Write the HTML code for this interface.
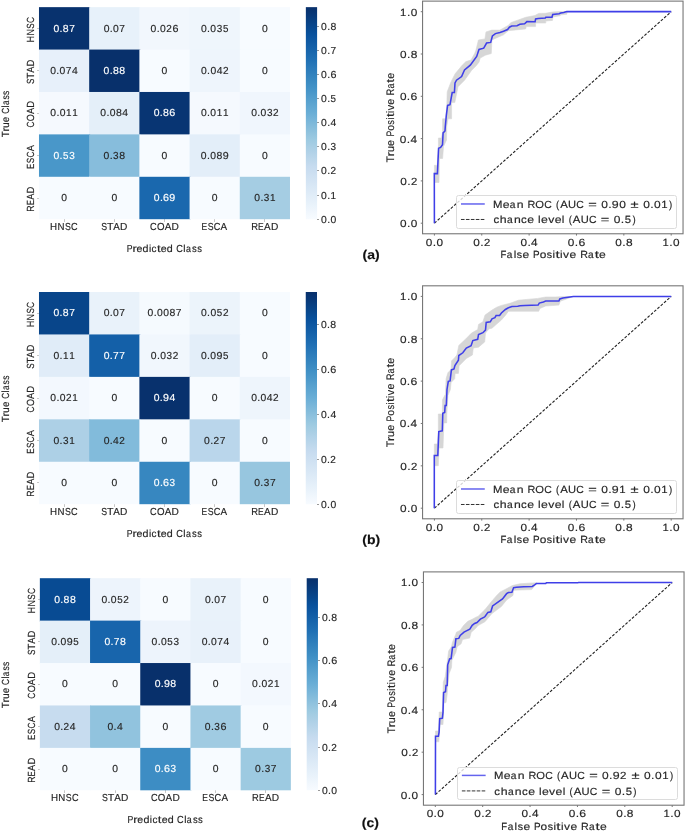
<!DOCTYPE html>
<html><head><meta charset="utf-8"><style>
html,body{margin:0;padding:0;background:#fff;}
body{width:685px;height:832px;position:relative;overflow:hidden;font-family:"Liberation Sans", sans-serif;}
.t{position:absolute;line-height:0;white-space:nowrap;}
.g{position:absolute;line-height:0;white-space:nowrap;width:0;height:0;will-change:transform;}
.g span{position:absolute;line-height:0;-webkit-text-stroke:0.2px currentColor;}
</style></head><body>
<div style="position:absolute;left:63.58px;top:219.20px;width:1.00px;height:2.50px;background:#c8c8c8;"></div>
<div style="position:absolute;left:113.78px;top:219.20px;width:1.00px;height:2.50px;background:#c8c8c8;"></div>
<div style="position:absolute;left:163.98px;top:219.20px;width:1.00px;height:2.50px;background:#c8c8c8;"></div>
<div style="position:absolute;left:214.18px;top:219.20px;width:1.00px;height:2.50px;background:#c8c8c8;"></div>
<div style="position:absolute;left:264.38px;top:219.20px;width:1.00px;height:2.50px;background:#c8c8c8;"></div>
<div style="position:absolute;left:36.98px;top:27.86px;width:2.00px;height:1.00px;background:#c8c8c8;"></div>
<div style="position:absolute;left:36.98px;top:70.27px;width:2.00px;height:1.00px;background:#c8c8c8;"></div>
<div style="position:absolute;left:36.98px;top:112.68px;width:2.00px;height:1.00px;background:#c8c8c8;"></div>
<div style="position:absolute;left:36.98px;top:155.09px;width:2.00px;height:1.00px;background:#c8c8c8;"></div>
<div style="position:absolute;left:36.98px;top:197.50px;width:2.00px;height:1.00px;background:#c8c8c8;"></div>
<div style="position:absolute;left:317.10px;top:218.70px;width:2.00px;height:1.00px;background:#999;"></div>
<div style="position:absolute;left:317.10px;top:194.60px;width:2.00px;height:1.00px;background:#999;"></div>
<div style="position:absolute;left:317.10px;top:170.49px;width:2.00px;height:1.00px;background:#999;"></div>
<div style="position:absolute;left:317.10px;top:146.39px;width:2.00px;height:1.00px;background:#999;"></div>
<div style="position:absolute;left:317.10px;top:122.28px;width:2.00px;height:1.00px;background:#999;"></div>
<div style="position:absolute;left:317.10px;top:98.18px;width:2.00px;height:1.00px;background:#999;"></div>
<div style="position:absolute;left:317.10px;top:74.07px;width:2.00px;height:1.00px;background:#999;"></div>
<div style="position:absolute;left:317.10px;top:49.97px;width:2.00px;height:1.00px;background:#999;"></div>
<div style="position:absolute;left:317.10px;top:25.86px;width:2.00px;height:1.00px;background:#999;"></div>
<div style="position:absolute;left:63.58px;top:504.20px;width:1.00px;height:2.50px;background:#c8c8c8;"></div>
<div style="position:absolute;left:113.78px;top:504.20px;width:1.00px;height:2.50px;background:#c8c8c8;"></div>
<div style="position:absolute;left:163.98px;top:504.20px;width:1.00px;height:2.50px;background:#c8c8c8;"></div>
<div style="position:absolute;left:214.18px;top:504.20px;width:1.00px;height:2.50px;background:#c8c8c8;"></div>
<div style="position:absolute;left:264.38px;top:504.20px;width:1.00px;height:2.50px;background:#c8c8c8;"></div>
<div style="position:absolute;left:36.98px;top:312.72px;width:2.00px;height:1.00px;background:#c8c8c8;"></div>
<div style="position:absolute;left:36.98px;top:355.16px;width:2.00px;height:1.00px;background:#c8c8c8;"></div>
<div style="position:absolute;left:36.98px;top:397.60px;width:2.00px;height:1.00px;background:#c8c8c8;"></div>
<div style="position:absolute;left:36.98px;top:440.04px;width:2.00px;height:1.00px;background:#c8c8c8;"></div>
<div style="position:absolute;left:36.98px;top:482.48px;width:2.00px;height:1.00px;background:#c8c8c8;"></div>
<div style="position:absolute;left:317.00px;top:503.70px;width:2.00px;height:1.00px;background:#999;"></div>
<div style="position:absolute;left:317.00px;top:458.74px;width:2.00px;height:1.00px;background:#999;"></div>
<div style="position:absolute;left:317.00px;top:413.78px;width:2.00px;height:1.00px;background:#999;"></div>
<div style="position:absolute;left:317.00px;top:368.83px;width:2.00px;height:1.00px;background:#999;"></div>
<div style="position:absolute;left:317.00px;top:323.87px;width:2.00px;height:1.00px;background:#999;"></div>
<div style="position:absolute;left:64.45px;top:790.30px;width:1.00px;height:2.50px;background:#c8c8c8;"></div>
<div style="position:absolute;left:114.65px;top:790.30px;width:1.00px;height:2.50px;background:#c8c8c8;"></div>
<div style="position:absolute;left:164.85px;top:790.30px;width:1.00px;height:2.50px;background:#c8c8c8;"></div>
<div style="position:absolute;left:215.05px;top:790.30px;width:1.00px;height:2.50px;background:#c8c8c8;"></div>
<div style="position:absolute;left:265.25px;top:790.30px;width:1.00px;height:2.50px;background:#c8c8c8;"></div>
<div style="position:absolute;left:37.85px;top:598.91px;width:2.00px;height:1.00px;background:#c8c8c8;"></div>
<div style="position:absolute;left:37.85px;top:641.33px;width:2.00px;height:1.00px;background:#c8c8c8;"></div>
<div style="position:absolute;left:37.85px;top:683.75px;width:2.00px;height:1.00px;background:#c8c8c8;"></div>
<div style="position:absolute;left:37.85px;top:726.17px;width:2.00px;height:1.00px;background:#c8c8c8;"></div>
<div style="position:absolute;left:37.85px;top:768.59px;width:2.00px;height:1.00px;background:#c8c8c8;"></div>
<div style="position:absolute;left:317.95px;top:789.80px;width:2.00px;height:1.00px;background:#999;"></div>
<div style="position:absolute;left:317.95px;top:746.51px;width:2.00px;height:1.00px;background:#999;"></div>
<div style="position:absolute;left:317.95px;top:703.23px;width:2.00px;height:1.00px;background:#999;"></div>
<div style="position:absolute;left:317.95px;top:659.94px;width:2.00px;height:1.00px;background:#999;"></div>
<div style="position:absolute;left:317.95px;top:616.66px;width:2.00px;height:1.00px;background:#999;"></div>
<svg width="685" height="832" style="position:absolute;left:0;top:0"><rect x="38.98" y="7.15" width="51.20" height="43.41" fill="#08326e"/><rect x="89.18" y="7.15" width="51.20" height="43.41" fill="#e7f1fa"/><rect x="139.38" y="7.15" width="51.20" height="43.41" fill="#f2f7fd"/><rect x="189.58" y="7.15" width="51.20" height="43.41" fill="#eff6fc"/><rect x="239.78" y="7.15" width="50.20" height="43.41" fill="#f7fbff"/><rect x="38.98" y="49.56" width="51.20" height="43.41" fill="#e7f0fa"/><rect x="89.18" y="49.56" width="51.20" height="43.41" fill="#08306b"/><rect x="139.38" y="49.56" width="51.20" height="43.41" fill="#f7fbff"/><rect x="189.58" y="49.56" width="51.20" height="43.41" fill="#eef5fc"/><rect x="239.78" y="49.56" width="50.20" height="43.41" fill="#f7fbff"/><rect x="38.98" y="91.97" width="51.20" height="43.41" fill="#f5f9fe"/><rect x="89.18" y="91.97" width="51.20" height="43.41" fill="#e4eff9"/><rect x="139.38" y="91.97" width="51.20" height="43.41" fill="#083573"/><rect x="189.58" y="91.97" width="51.20" height="43.41" fill="#f5f9fe"/><rect x="239.78" y="91.97" width="50.20" height="43.41" fill="#f0f6fd"/><rect x="38.98" y="134.38" width="51.20" height="43.41" fill="#4997c9"/><rect x="89.18" y="134.38" width="51.20" height="43.41" fill="#87bddc"/><rect x="139.38" y="134.38" width="51.20" height="43.41" fill="#f7fbff"/><rect x="189.58" y="134.38" width="51.20" height="43.41" fill="#e3eef9"/><rect x="239.78" y="134.38" width="50.20" height="43.41" fill="#f7fbff"/><rect x="38.98" y="176.79" width="51.20" height="42.41" fill="#f7fbff"/><rect x="89.18" y="176.79" width="51.20" height="42.41" fill="#f7fbff"/><rect x="139.38" y="176.79" width="51.20" height="42.41" fill="#1a68ae"/><rect x="189.58" y="176.79" width="51.20" height="42.41" fill="#f7fbff"/><rect x="239.78" y="176.79" width="50.20" height="42.41" fill="#a5cde3"/><defs><linearGradient id="cb0" x1="0" y1="0" x2="0" y2="1"><stop offset="0.0000" stop-color="#08306b"/><stop offset="0.0312" stop-color="#083776"/><stop offset="0.0625" stop-color="#084082"/><stop offset="0.0938" stop-color="#08488e"/><stop offset="0.1250" stop-color="#08509b"/><stop offset="0.1562" stop-color="#0e58a2"/><stop offset="0.1875" stop-color="#1460a8"/><stop offset="0.2188" stop-color="#1a68ae"/><stop offset="0.2500" stop-color="#2070b4"/><stop offset="0.2812" stop-color="#2979b9"/><stop offset="0.3125" stop-color="#3181bd"/><stop offset="0.3438" stop-color="#3989c1"/><stop offset="0.3750" stop-color="#4191c6"/><stop offset="0.4062" stop-color="#4b98ca"/><stop offset="0.4375" stop-color="#56a0ce"/><stop offset="0.4688" stop-color="#60a7d2"/><stop offset="0.5000" stop-color="#6aaed6"/><stop offset="0.5312" stop-color="#77b5d9"/><stop offset="0.5625" stop-color="#84bcdb"/><stop offset="0.5938" stop-color="#91c3de"/><stop offset="0.6250" stop-color="#9dcae1"/><stop offset="0.6562" stop-color="#a8cee4"/><stop offset="0.6875" stop-color="#b2d2e8"/><stop offset="0.7188" stop-color="#bcd7eb"/><stop offset="0.7500" stop-color="#c6dbef"/><stop offset="0.7812" stop-color="#ccdff1"/><stop offset="0.8125" stop-color="#d2e3f3"/><stop offset="0.8438" stop-color="#d8e7f5"/><stop offset="0.8750" stop-color="#deebf7"/><stop offset="0.9062" stop-color="#e4eff9"/><stop offset="0.9375" stop-color="#eaf3fb"/><stop offset="0.9688" stop-color="#f1f7fd"/><stop offset="1.0000" stop-color="#f7fbff"/></linearGradient></defs><rect x="305.85" y="7.15" width="11.25" height="212.05" fill="url(#cb0)"/><rect x="38.98" y="292.00" width="51.20" height="43.44" fill="#08458a"/><rect x="89.18" y="292.00" width="51.20" height="43.44" fill="#e9f2fa"/><rect x="139.38" y="292.00" width="51.20" height="43.44" fill="#f5fafe"/><rect x="189.58" y="292.00" width="51.20" height="43.44" fill="#ecf4fb"/><rect x="239.78" y="292.00" width="50.20" height="43.44" fill="#f7fbff"/><rect x="38.98" y="334.44" width="51.20" height="43.44" fill="#e0ecf8"/><rect x="89.18" y="334.44" width="51.20" height="43.44" fill="#1460a8"/><rect x="139.38" y="334.44" width="51.20" height="43.44" fill="#f1f7fd"/><rect x="189.58" y="334.44" width="51.20" height="43.44" fill="#e3eef9"/><rect x="239.78" y="334.44" width="50.20" height="43.44" fill="#f7fbff"/><rect x="38.98" y="376.88" width="51.20" height="43.44" fill="#f3f8fe"/><rect x="89.18" y="376.88" width="51.20" height="43.44" fill="#f7fbff"/><rect x="139.38" y="376.88" width="51.20" height="43.44" fill="#08316d"/><rect x="189.58" y="376.88" width="51.20" height="43.44" fill="#f7fbff"/><rect x="239.78" y="376.88" width="50.20" height="43.44" fill="#eef5fc"/><rect x="38.98" y="419.32" width="51.20" height="43.44" fill="#add0e6"/><rect x="89.18" y="419.32" width="51.20" height="43.44" fill="#82bbdb"/><rect x="139.38" y="419.32" width="51.20" height="43.44" fill="#f7fbff"/><rect x="189.58" y="419.32" width="51.20" height="43.44" fill="#bad6eb"/><rect x="239.78" y="419.32" width="50.20" height="43.44" fill="#f7fbff"/><rect x="38.98" y="461.76" width="51.20" height="42.44" fill="#f7fbff"/><rect x="89.18" y="461.76" width="51.20" height="42.44" fill="#f7fbff"/><rect x="139.38" y="461.76" width="51.20" height="42.44" fill="#3787c0"/><rect x="189.58" y="461.76" width="51.20" height="42.44" fill="#f7fbff"/><rect x="239.78" y="461.76" width="50.20" height="42.44" fill="#97c6df"/><defs><linearGradient id="cb1" x1="0" y1="0" x2="0" y2="1"><stop offset="0.0000" stop-color="#08306b"/><stop offset="0.0312" stop-color="#083776"/><stop offset="0.0625" stop-color="#084082"/><stop offset="0.0938" stop-color="#08488e"/><stop offset="0.1250" stop-color="#08509b"/><stop offset="0.1562" stop-color="#0e58a2"/><stop offset="0.1875" stop-color="#1460a8"/><stop offset="0.2188" stop-color="#1a68ae"/><stop offset="0.2500" stop-color="#2070b4"/><stop offset="0.2812" stop-color="#2979b9"/><stop offset="0.3125" stop-color="#3181bd"/><stop offset="0.3438" stop-color="#3989c1"/><stop offset="0.3750" stop-color="#4191c6"/><stop offset="0.4062" stop-color="#4b98ca"/><stop offset="0.4375" stop-color="#56a0ce"/><stop offset="0.4688" stop-color="#60a7d2"/><stop offset="0.5000" stop-color="#6aaed6"/><stop offset="0.5312" stop-color="#77b5d9"/><stop offset="0.5625" stop-color="#84bcdb"/><stop offset="0.5938" stop-color="#91c3de"/><stop offset="0.6250" stop-color="#9dcae1"/><stop offset="0.6562" stop-color="#a8cee4"/><stop offset="0.6875" stop-color="#b2d2e8"/><stop offset="0.7188" stop-color="#bcd7eb"/><stop offset="0.7500" stop-color="#c6dbef"/><stop offset="0.7812" stop-color="#ccdff1"/><stop offset="0.8125" stop-color="#d2e3f3"/><stop offset="0.8438" stop-color="#d8e7f5"/><stop offset="0.8750" stop-color="#deebf7"/><stop offset="0.9062" stop-color="#e4eff9"/><stop offset="0.9375" stop-color="#eaf3fb"/><stop offset="0.9688" stop-color="#f1f7fd"/><stop offset="1.0000" stop-color="#f7fbff"/></linearGradient></defs><rect x="305.75" y="292.00" width="11.25" height="212.20" fill="url(#cb1)"/><rect x="39.85" y="578.20" width="51.20" height="43.42" fill="#084b93"/><rect x="90.05" y="578.20" width="51.20" height="43.42" fill="#edf4fc"/><rect x="140.25" y="578.20" width="51.20" height="43.42" fill="#f7fbff"/><rect x="190.45" y="578.20" width="51.20" height="43.42" fill="#e9f2fa"/><rect x="240.65" y="578.20" width="50.20" height="43.42" fill="#f7fbff"/><rect x="39.85" y="620.62" width="51.20" height="43.42" fill="#e4eff9"/><rect x="90.05" y="620.62" width="51.20" height="43.42" fill="#1865ac"/><rect x="140.25" y="620.62" width="51.20" height="43.42" fill="#edf4fc"/><rect x="190.45" y="620.62" width="51.20" height="43.42" fill="#e8f1fa"/><rect x="240.65" y="620.62" width="50.20" height="43.42" fill="#f7fbff"/><rect x="39.85" y="663.04" width="51.20" height="43.42" fill="#f7fbff"/><rect x="90.05" y="663.04" width="51.20" height="43.42" fill="#f7fbff"/><rect x="140.25" y="663.04" width="51.20" height="43.42" fill="#08306b"/><rect x="190.45" y="663.04" width="51.20" height="43.42" fill="#f7fbff"/><rect x="240.65" y="663.04" width="50.20" height="43.42" fill="#f3f8fe"/><rect x="39.85" y="705.46" width="51.20" height="43.42" fill="#c7dcef"/><rect x="90.05" y="705.46" width="51.20" height="43.42" fill="#91c3de"/><rect x="140.25" y="705.46" width="51.20" height="43.42" fill="#f7fbff"/><rect x="190.45" y="705.46" width="51.20" height="43.42" fill="#a0cbe2"/><rect x="240.65" y="705.46" width="50.20" height="43.42" fill="#f7fbff"/><rect x="39.85" y="747.88" width="51.20" height="42.42" fill="#f7fbff"/><rect x="90.05" y="747.88" width="51.20" height="42.42" fill="#f7fbff"/><rect x="140.25" y="747.88" width="51.20" height="42.42" fill="#3d8dc4"/><rect x="190.45" y="747.88" width="51.20" height="42.42" fill="#f7fbff"/><rect x="240.65" y="747.88" width="50.20" height="42.42" fill="#9dcae1"/><defs><linearGradient id="cb2" x1="0" y1="0" x2="0" y2="1"><stop offset="0.0000" stop-color="#08306b"/><stop offset="0.0312" stop-color="#083776"/><stop offset="0.0625" stop-color="#084082"/><stop offset="0.0938" stop-color="#08488e"/><stop offset="0.1250" stop-color="#08509b"/><stop offset="0.1562" stop-color="#0e58a2"/><stop offset="0.1875" stop-color="#1460a8"/><stop offset="0.2188" stop-color="#1a68ae"/><stop offset="0.2500" stop-color="#2070b4"/><stop offset="0.2812" stop-color="#2979b9"/><stop offset="0.3125" stop-color="#3181bd"/><stop offset="0.3438" stop-color="#3989c1"/><stop offset="0.3750" stop-color="#4191c6"/><stop offset="0.4062" stop-color="#4b98ca"/><stop offset="0.4375" stop-color="#56a0ce"/><stop offset="0.4688" stop-color="#60a7d2"/><stop offset="0.5000" stop-color="#6aaed6"/><stop offset="0.5312" stop-color="#77b5d9"/><stop offset="0.5625" stop-color="#84bcdb"/><stop offset="0.5938" stop-color="#91c3de"/><stop offset="0.6250" stop-color="#9dcae1"/><stop offset="0.6562" stop-color="#a8cee4"/><stop offset="0.6875" stop-color="#b2d2e8"/><stop offset="0.7188" stop-color="#bcd7eb"/><stop offset="0.7500" stop-color="#c6dbef"/><stop offset="0.7812" stop-color="#ccdff1"/><stop offset="0.8125" stop-color="#d2e3f3"/><stop offset="0.8438" stop-color="#d8e7f5"/><stop offset="0.8750" stop-color="#deebf7"/><stop offset="0.9062" stop-color="#e4eff9"/><stop offset="0.9375" stop-color="#eaf3fb"/><stop offset="0.9688" stop-color="#f1f7fd"/><stop offset="1.0000" stop-color="#f7fbff"/></linearGradient></defs><rect x="306.70" y="578.20" width="11.25" height="212.10" fill="url(#cb2)"/><polygon points="434.4,173.6 434.4,165.3 437.2,165.3 438.4,147.7 438.4,138.0 441.4,138.0 442.6,132.0 442.6,118.8 445.6,118.8 446.8,105.0 447.2,91.8 450.8,82.4 455.1,73.8 462.3,65.1 466.0,61.5 471.0,60.1 474.6,53.6 476.0,50.0 478.4,40.0 484.9,38.9 486.0,31.9 491.9,30.1 500.0,30.1 508.2,25.4 511.1,22.5 517.6,20.2 525.7,17.3 535.0,15.5 538.6,13.4 545.3,13.3 552.5,12.0 559.6,11.6 567.3,11.6 567.3,11.6 566.8,14.3 560.7,14.8 560.1,15.8 553.0,16.9 552.5,20.4 545.8,21.0 545.8,23.0 535.6,23.0 535.6,26.6 526.3,26.6 525.7,28.9 508.2,30.7 503.5,34.8 494.2,38.9 491.9,40.0 491.3,53.5 485.4,55.2 480.2,58.1 479.0,62.2 476.0,65.9 471.7,70.2 464.5,80.3 458.0,86.8 454.8,102.6 451.6,102.6 451.6,118.8 448.0,118.8 446.8,126.0 446.5,140.0 443.5,146.6 442.6,158.5 439.4,158.5 439.0,182.5 434.8,182.5 434.8,173.6" fill="#d6d6d6" stroke="#d6d6d6" stroke-width="0.6" stroke-linejoin="round"/><line x1="434.4" y1="223.2" x2="671.2" y2="11.7" stroke="#222" stroke-width="1.1" stroke-dasharray="2.8 1.6"/><path d="M434.4,223.2 L434.3,173.6 L437.4,173.6 L438.6,148.2 L440.6,147.4 L442.5,144.8 L443.1,132.9 L445.0,131.0 L445.3,126.5 L446.4,114.8 L447.6,105.4 L450.0,104.7 L452.2,92.5 L454.4,92.5 L455.0,83.0 L456.5,80.2 L461.6,76.6 L464.5,70.0 L470.3,65.1 L476.7,56.4 L479.0,49.4 L483.7,48.2 L486.6,43.0 L490.7,42.4 L492.4,36.0 L495.4,33.6 L500.0,32.4 L503.5,31.3 L507.6,29.5 L509.4,27.2 L511.7,26.0 L517.0,25.8 L519.9,24.3 L524.6,23.7 L526.9,21.6 L535.1,21.7 L535.6,18.9 L538.2,18.4 L545.3,17.9 L545.8,17.2 L552.0,17.2 L552.7,14.5 L559.1,13.8 L560.7,13.1 L563.7,12.5 L566.8,11.6 L671.2,11.6" fill="none" stroke="#3f3fe8" stroke-width="1.55" stroke-linejoin="miter"/><rect x="422.56" y="1.12" width="260.48" height="232.65" fill="none" stroke="#777" stroke-width="1.1"/><line x1="434.40" y1="233.77" x2="434.40" y2="235.57" stroke="#777" stroke-width="1"/><line x1="420.76" y1="223.20" x2="422.56" y2="223.20" stroke="#777" stroke-width="1"/><line x1="481.76" y1="233.77" x2="481.76" y2="235.57" stroke="#777" stroke-width="1"/><line x1="420.76" y1="180.90" x2="422.56" y2="180.90" stroke="#777" stroke-width="1"/><line x1="529.12" y1="233.77" x2="529.12" y2="235.57" stroke="#777" stroke-width="1"/><line x1="420.76" y1="138.60" x2="422.56" y2="138.60" stroke="#777" stroke-width="1"/><line x1="576.48" y1="233.77" x2="576.48" y2="235.57" stroke="#777" stroke-width="1"/><line x1="420.76" y1="96.30" x2="422.56" y2="96.30" stroke="#777" stroke-width="1"/><line x1="623.84" y1="233.77" x2="623.84" y2="235.57" stroke="#777" stroke-width="1"/><line x1="420.76" y1="54.00" x2="422.56" y2="54.00" stroke="#777" stroke-width="1"/><line x1="671.20" y1="233.77" x2="671.20" y2="235.57" stroke="#777" stroke-width="1"/><line x1="420.76" y1="11.70" x2="422.56" y2="11.70" stroke="#777" stroke-width="1"/><polygon points="434.3,455.4 434.3,444.0 437.5,444.0 438.3,431.6 438.3,414.0 442.3,414.0 442.5,399.7 445.4,394.3 446.1,378.8 447.9,372.7 451.1,369.4 451.5,360.8 454.0,358.6 456.9,355.0 458.8,345.4 465.4,339.3 471.5,333.1 477.7,329.6 478.5,324.4 482.9,321.8 485.0,315.1 492.0,310.1 496.7,307.2 501.4,305.4 510.7,303.1 518.3,300.2 537.6,298.4 545.7,297.0 555.0,297.0 565.0,296.6 573.4,296.5 573.4,296.5 560.3,301.2 558.9,305.1 545.7,306.0 539.9,308.4 538.7,311.3 508.4,311.3 505.4,315.4 501.4,320.0 496.7,324.1 492.0,328.2 489.0,328.8 485.5,333.1 484.7,341.9 478.5,347.2 473.3,348.0 472.4,355.0 466.3,358.5 462.7,362.2 459.1,365.8 458.4,373.4 455.1,373.4 454.7,378.8 451.1,382.4 450.4,389.6 447.9,395.4 446.8,414.1 446.7,422.9 443.9,422.9 443.0,448.0 439.0,448.0 438.3,465.7 435.1,465.7 435.1,455.4" fill="#d6d6d6" stroke="#d6d6d6" stroke-width="0.6" stroke-linejoin="round"/><line x1="434.4" y1="508.2" x2="671.2" y2="296.4" stroke="#222" stroke-width="1.1" stroke-dasharray="2.8 1.6"/><path d="M434.3,508.2 L434.3,455.4 L437.8,455.4 L438.8,431.6 L442.3,430.8 L442.8,413.3 L444.7,412.5 L445.1,405.4 L446.3,405.4 L447.0,389.5 L448.3,381.3 L450.1,380.9 L451.4,369.9 L454.0,369.0 L454.9,365.5 L458.4,360.3 L458.8,355.5 L462.8,352.8 L466.3,348.0 L471.1,345.8 L472.8,340.6 L477.7,339.3 L478.5,334.5 L482.9,332.7 L485.5,330.1 L486.2,322.4 L490.3,321.8 L492.0,318.9 L494.9,317.7 L496.1,315.6 L499.6,315.4 L501.4,313.0 L505.4,309.5 L508.4,307.8 L511.9,306.6 L517.7,306.3 L520.0,305.8 L524.7,305.4 L538.1,305.1 L539.3,303.1 L543.4,301.9 L545.7,301.1 L558.9,301.0 L559.8,299.0 L562.9,298.0 L568.1,297.3 L573.4,296.5 L671.2,296.5" fill="none" stroke="#3f3fe8" stroke-width="1.55" stroke-linejoin="miter"/><rect x="422.56" y="285.81" width="260.48" height="232.98" fill="none" stroke="#777" stroke-width="1.1"/><line x1="434.40" y1="518.79" x2="434.40" y2="520.59" stroke="#777" stroke-width="1"/><line x1="420.76" y1="508.20" x2="422.56" y2="508.20" stroke="#777" stroke-width="1"/><line x1="481.76" y1="518.79" x2="481.76" y2="520.59" stroke="#777" stroke-width="1"/><line x1="420.76" y1="465.84" x2="422.56" y2="465.84" stroke="#777" stroke-width="1"/><line x1="529.12" y1="518.79" x2="529.12" y2="520.59" stroke="#777" stroke-width="1"/><line x1="420.76" y1="423.48" x2="422.56" y2="423.48" stroke="#777" stroke-width="1"/><line x1="576.48" y1="518.79" x2="576.48" y2="520.59" stroke="#777" stroke-width="1"/><line x1="420.76" y1="381.12" x2="422.56" y2="381.12" stroke="#777" stroke-width="1"/><line x1="623.84" y1="518.79" x2="623.84" y2="520.59" stroke="#777" stroke-width="1"/><line x1="420.76" y1="338.76" x2="422.56" y2="338.76" stroke="#777" stroke-width="1"/><line x1="671.20" y1="518.79" x2="671.20" y2="520.59" stroke="#777" stroke-width="1"/><line x1="420.76" y1="296.40" x2="422.56" y2="296.40" stroke="#777" stroke-width="1"/><polygon points="435.5,736.3 435.5,731.0 438.6,731.0 439.2,712.0 442.4,712.0 443.3,682.3 445.2,676.5 447.6,659.2 448.6,651.1 451.5,646.7 452.4,642.4 455.8,634.2 456.3,632.3 460.1,630.4 463.5,625.6 467.8,621.3 472.1,619.3 476.5,616.9 478.0,616.4 485.0,609.5 493.2,599.5 496.7,595.4 500.2,591.9 506.0,589.0 512.4,585.5 520.0,583.8 532.9,582.9 536.4,582.8 536.4,583.2 534.0,586.7 531.7,589.6 513.6,590.2 513.0,595.4 506.6,600.1 501.4,606.5 496.7,610.0 492.0,613.5 485.0,621.7 478.0,625.6 475.5,628.5 471.2,632.3 469.7,638.1 462.5,639.5 461.1,643.8 457.2,646.7 455.8,652.5 451.9,660.2 451.5,667.4 449.1,673.7 447.6,688.1 447.1,695.0 446.0,702.7 443.9,702.7 443.0,724.5 440.0,724.5 438.8,741.8 436.3,741.8 436.3,736.3" fill="#d6d6d6" stroke="#d6d6d6" stroke-width="0.6" stroke-linejoin="round"/><line x1="435.3" y1="794.6" x2="672.2" y2="582.5" stroke="#222" stroke-width="1.1" stroke-dasharray="2.8 1.6"/><path d="M435.4,794.6 L435.5,736.3 L438.4,736.3 L439.1,732.1 L439.7,718.7 L442.4,718.2 L443.0,712.4 L443.6,692.6 L445.5,691.8 L446.0,685.5 L447.2,685.5 L447.7,664.8 L449.6,659.0 L451.1,658.6 L452.5,647.5 L454.9,647.0 L455.9,638.8 L458.8,638.4 L460.2,635.5 L464.0,632.1 L469.8,629.2 L472.2,625.4 L474.6,623.5 L477.0,622.5 L480.4,619.1 L484.2,617.2 L485.0,616.5 L487.9,612.4 L490.8,611.8 L492.6,606.0 L499.0,601.3 L502.5,598.9 L506.6,593.7 L508.4,592.5 L511.9,592.3 L513.6,587.8 L516.5,587.3 L523.5,586.7 L532.3,586.4 L534.6,584.9 L536.4,583.6 L545.8,583.4 L546.4,582.8 L577.9,582.8 L578.5,582.4 L672.2,582.4" fill="none" stroke="#3f3fe8" stroke-width="1.55" stroke-linejoin="miter"/><rect x="423.45" y="571.89" width="260.59" height="233.31" fill="none" stroke="#777" stroke-width="1.1"/><line x1="435.30" y1="805.21" x2="435.30" y2="807.00" stroke="#777" stroke-width="1"/><line x1="421.65" y1="794.60" x2="423.45" y2="794.60" stroke="#777" stroke-width="1"/><line x1="482.68" y1="805.21" x2="482.68" y2="807.00" stroke="#777" stroke-width="1"/><line x1="421.65" y1="752.18" x2="423.45" y2="752.18" stroke="#777" stroke-width="1"/><line x1="530.06" y1="805.21" x2="530.06" y2="807.00" stroke="#777" stroke-width="1"/><line x1="421.65" y1="709.76" x2="423.45" y2="709.76" stroke="#777" stroke-width="1"/><line x1="577.44" y1="805.21" x2="577.44" y2="807.00" stroke="#777" stroke-width="1"/><line x1="421.65" y1="667.34" x2="423.45" y2="667.34" stroke="#777" stroke-width="1"/><line x1="624.82" y1="805.21" x2="624.82" y2="807.00" stroke="#777" stroke-width="1"/><line x1="421.65" y1="624.92" x2="423.45" y2="624.92" stroke="#777" stroke-width="1"/><line x1="672.20" y1="805.21" x2="672.20" y2="807.00" stroke="#777" stroke-width="1"/><line x1="421.65" y1="582.50" x2="423.45" y2="582.50" stroke="#777" stroke-width="1"/></svg>
<div style="position:absolute;left:456.36px;top:195.37px;width:220.60px;height:33.30px;box-sizing:border-box;border:1px solid #dcdcdc;border-radius:2.5px;background:rgba(255,255,255,0.8)"></div>
<div style="position:absolute;left:456.36px;top:480.39px;width:220.60px;height:33.30px;box-sizing:border-box;border:1px solid #dcdcdc;border-radius:2.5px;background:rgba(255,255,255,0.8)"></div>
<div style="position:absolute;left:457.25px;top:766.81px;width:220.60px;height:33.30px;box-sizing:border-box;border:1px solid #dcdcdc;border-radius:2.5px;background:rgba(255,255,255,0.8)"></div>
<svg width="685" height="832" style="position:absolute;left:0;top:0;will-change:transform" font-family="Liberation Sans" text-rendering="geometricPrecision" stroke-width="0.16"><g transform="translate(53.21,31.56)" font-size="10.17" fill="#ffffff" stroke="#ffffff"><text transform="translate(0.24,0) scale(1.021,1)">0</text><text transform="translate(6.35,0) scale(1.048,1)">.</text><text transform="translate(9.61,0) scale(1.032,1)">8</text><text x="15.95" y="0">7</text></g><g transform="translate(103.41,31.56)" font-size="10.17" fill="#262626" stroke="#262626"><text transform="translate(0.24,0) scale(1.021,1)">0</text><text transform="translate(6.35,0) scale(1.048,1)">.</text><text transform="translate(9.64,0) scale(1.021,1)">0</text><text x="15.95" y="0">7</text></g><g transform="translate(150.37,31.56)" font-size="10.17" fill="#262626" stroke="#262626"><text transform="translate(0.24,0) scale(1.021,1)">0</text><text transform="translate(6.35,0) scale(1.048,1)">.</text><text transform="translate(9.64,0) scale(1.021,1)">0</text><text transform="translate(15.88,0) scale(0.984,1)">2</text><text transform="translate(22.07,0) scale(1.056,1)">6</text></g><g transform="translate(200.69,31.56)" font-size="10.17" fill="#262626" stroke="#262626"><text transform="translate(0.24,0) scale(1.021,1)">0</text><text transform="translate(6.35,0) scale(1.048,1)">.</text><text transform="translate(9.64,0) scale(1.021,1)">0</text><text transform="translate(16.04,0) scale(0.980,1)">3</text><text transform="translate(22.30,0) scale(0.963,1)">5</text></g><g transform="translate(261.75,31.56)" font-size="10.17" fill="#262626" stroke="#262626"><text transform="translate(0.24,0) scale(1.021,1)">0</text></g><g transform="translate(49.93,73.97)" font-size="10.17" fill="#262626" stroke="#262626"><text transform="translate(0.24,0) scale(1.021,1)">0</text><text transform="translate(6.35,0) scale(1.048,1)">.</text><text transform="translate(9.64,0) scale(1.021,1)">0</text><text x="15.95" y="0">7</text><text transform="translate(22.17,0) scale(1.021,1)">4</text></g><g transform="translate(103.33,73.97)" font-size="10.17" fill="#ffffff" stroke="#ffffff"><text transform="translate(0.24,0) scale(1.021,1)">0</text><text transform="translate(6.35,0) scale(1.048,1)">.</text><text transform="translate(9.61,0) scale(1.032,1)">8</text><text transform="translate(15.88,0) scale(1.032,1)">8</text></g><g transform="translate(161.35,73.97)" font-size="10.17" fill="#262626" stroke="#262626"><text transform="translate(0.24,0) scale(1.021,1)">0</text></g><g transform="translate(200.75,73.97)" font-size="10.17" fill="#262626" stroke="#262626"><text transform="translate(0.24,0) scale(1.021,1)">0</text><text transform="translate(6.35,0) scale(1.048,1)">.</text><text transform="translate(9.64,0) scale(1.021,1)">0</text><text transform="translate(15.91,0) scale(1.021,1)">4</text><text transform="translate(22.15,0) scale(0.984,1)">2</text></g><g transform="translate(261.75,73.97)" font-size="10.17" fill="#262626" stroke="#262626"><text transform="translate(0.24,0) scale(1.021,1)">0</text></g><g transform="translate(50.11,116.38)" font-size="10.17" fill="#262626" stroke="#262626"><text transform="translate(0.24,0) scale(1.021,1)">0</text><text transform="translate(6.35,0) scale(1.048,1)">.</text><text transform="translate(9.64,0) scale(1.021,1)">0</text><text transform="translate(15.99,0) scale(0.975,1)">1</text><text transform="translate(22.26,0) scale(0.975,1)">1</text></g><g transform="translate(100.13,116.38)" font-size="10.17" fill="#262626" stroke="#262626"><text transform="translate(0.24,0) scale(1.021,1)">0</text><text transform="translate(6.35,0) scale(1.048,1)">.</text><text transform="translate(9.64,0) scale(1.021,1)">0</text><text transform="translate(15.88,0) scale(1.032,1)">8</text><text transform="translate(22.17,0) scale(1.021,1)">4</text></g><g transform="translate(153.50,116.38)" font-size="10.17" fill="#ffffff" stroke="#ffffff"><text transform="translate(0.24,0) scale(1.021,1)">0</text><text transform="translate(6.35,0) scale(1.048,1)">.</text><text transform="translate(9.61,0) scale(1.032,1)">8</text><text transform="translate(15.81,0) scale(1.056,1)">6</text></g><g transform="translate(200.71,116.38)" font-size="10.17" fill="#262626" stroke="#262626"><text transform="translate(0.24,0) scale(1.021,1)">0</text><text transform="translate(6.35,0) scale(1.048,1)">.</text><text transform="translate(9.64,0) scale(1.021,1)">0</text><text transform="translate(15.99,0) scale(0.975,1)">1</text><text transform="translate(22.26,0) scale(0.975,1)">1</text></g><g transform="translate(250.95,116.38)" font-size="10.17" fill="#262626" stroke="#262626"><text transform="translate(0.24,0) scale(1.021,1)">0</text><text transform="translate(6.35,0) scale(1.048,1)">.</text><text transform="translate(9.64,0) scale(1.021,1)">0</text><text transform="translate(16.04,0) scale(0.980,1)">3</text><text transform="translate(22.15,0) scale(0.984,1)">2</text></g><g transform="translate(53.18,158.78)" font-size="10.17" fill="#ffffff" stroke="#ffffff"><text transform="translate(0.24,0) scale(1.021,1)">0</text><text transform="translate(6.35,0) scale(1.048,1)">.</text><text transform="translate(9.77,0) scale(0.963,1)">5</text><text transform="translate(16.04,0) scale(0.980,1)">3</text></g><g transform="translate(103.33,158.78)" font-size="10.17" fill="#262626" stroke="#262626"><text transform="translate(0.24,0) scale(1.021,1)">0</text><text transform="translate(6.35,0) scale(1.048,1)">.</text><text transform="translate(9.77,0) scale(0.980,1)">3</text><text transform="translate(15.88,0) scale(1.032,1)">8</text></g><g transform="translate(161.35,158.78)" font-size="10.17" fill="#262626" stroke="#262626"><text transform="translate(0.24,0) scale(1.021,1)">0</text></g><g transform="translate(200.60,158.78)" font-size="10.17" fill="#262626" stroke="#262626"><text transform="translate(0.24,0) scale(1.021,1)">0</text><text transform="translate(6.35,0) scale(1.048,1)">.</text><text transform="translate(9.64,0) scale(1.021,1)">0</text><text transform="translate(15.88,0) scale(1.032,1)">8</text><text transform="translate(22.05,0) scale(1.054,1)">9</text></g><g transform="translate(261.75,158.78)" font-size="10.17" fill="#262626" stroke="#262626"><text transform="translate(0.24,0) scale(1.021,1)">0</text></g><g transform="translate(60.95,201.20)" font-size="10.17" fill="#262626" stroke="#262626"><text transform="translate(0.24,0) scale(1.021,1)">0</text></g><g transform="translate(111.15,201.20)" font-size="10.17" fill="#262626" stroke="#262626"><text transform="translate(0.24,0) scale(1.021,1)">0</text></g><g transform="translate(153.54,201.20)" font-size="10.17" fill="#ffffff" stroke="#ffffff"><text transform="translate(0.24,0) scale(1.021,1)">0</text><text transform="translate(6.35,0) scale(1.048,1)">.</text><text transform="translate(9.54,0) scale(1.056,1)">6</text><text transform="translate(15.78,0) scale(1.054,1)">9</text></g><g transform="translate(211.55,201.20)" font-size="10.17" fill="#262626" stroke="#262626"><text transform="translate(0.24,0) scale(1.021,1)">0</text></g><g transform="translate(254.04,201.20)" font-size="10.17" fill="#262626" stroke="#262626"><text transform="translate(0.24,0) scale(1.021,1)">0</text><text transform="translate(6.35,0) scale(1.048,1)">.</text><text transform="translate(9.77,0) scale(0.980,1)">3</text><text transform="translate(15.99,0) scale(0.975,1)">1</text></g><g transform="translate(49.91,229.80)" font-size="10.17" fill="#262626" stroke="#262626"><text transform="translate(0.16,0) scale(0.963,1)">H</text><text transform="translate(7.58,0) scale(0.956,1)">N</text><text transform="translate(15.03,0) scale(0.863,1)">S</text><text transform="translate(21.12,0) scale(0.899,1)">C</text></g><g transform="translate(100.95,229.80)" font-size="10.17" fill="#262626" stroke="#262626"><text transform="translate(0.25,0) scale(0.863,1)">S</text><text transform="translate(5.98,0) scale(1.056,1)">T</text><text transform="translate(12.33,0) scale(0.975,1)">A</text><text x="19.14" y="0">D</text></g><g transform="translate(150.02,229.80)" font-size="10.17" fill="#262626" stroke="#262626"><text transform="translate(0.09,0) scale(0.899,1)">C</text><text transform="translate(6.97,0) scale(0.957,1)">O</text><text transform="translate(14.69,0) scale(0.975,1)">A</text><text x="21.51" y="0">D</text></g><g transform="translate(201.19,229.80)" font-size="10.17" fill="#262626" stroke="#262626"><text transform="translate(0.27,0) scale(0.839,1)">E</text><text transform="translate(6.47,0) scale(0.863,1)">S</text><text transform="translate(12.56,0) scale(0.899,1)">C</text><text transform="translate(19.41,0) scale(0.975,1)">A</text></g><g transform="translate(250.99,229.80)" font-size="10.17" fill="#262626" stroke="#262626"><text transform="translate(0.19,0) scale(0.926,1)">R</text><text transform="translate(7.11,0) scale(0.839,1)">E</text><text transform="translate(13.13,0) scale(0.975,1)">A</text><text x="19.94" y="0">D</text></g><g transform="translate(34.18,29.46) rotate(-90) translate(-13.09,0)" font-size="10.33" fill="#262626" stroke="#262626"><text transform="translate(0.15,0) scale(0.876,1)">H</text><text transform="translate(7.00,0) scale(0.870,1)">N</text><text transform="translate(13.88,0) scale(0.785,1)">S</text><text transform="translate(19.51,0) scale(0.818,1)">C</text></g><g transform="translate(34.18,71.87) rotate(-90) translate(-12.31,0)" font-size="10.33" fill="#262626" stroke="#262626"><text transform="translate(0.23,0) scale(0.785,1)">S</text><text transform="translate(5.53,0) scale(0.961,1)">T</text><text transform="translate(11.39,0) scale(0.887,1)">A</text><text transform="translate(17.68,0) scale(0.911,1)">D</text></g><g transform="translate(34.18,114.28) rotate(-90) translate(-13.36,0)" font-size="10.33" fill="#262626" stroke="#262626"><text transform="translate(0.08,0) scale(0.818,1)">C</text><text transform="translate(6.44,0) scale(0.871,1)">O</text><text transform="translate(13.57,0) scale(0.887,1)">A</text><text transform="translate(19.86,0) scale(0.911,1)">D</text></g><g transform="translate(34.18,156.69) rotate(-90) translate(-12.46,0)" font-size="10.33" fill="#262626" stroke="#262626"><text transform="translate(0.25,0) scale(0.763,1)">E</text><text transform="translate(5.98,0) scale(0.785,1)">S</text><text transform="translate(11.61,0) scale(0.818,1)">C</text><text transform="translate(17.93,0) scale(0.887,1)">A</text></g><g transform="translate(34.18,199.10) rotate(-90) translate(-12.83,0)" font-size="10.33" fill="#262626" stroke="#262626"><text transform="translate(0.18,0) scale(0.842,1)">R</text><text transform="translate(6.57,0) scale(0.763,1)">E</text><text transform="translate(12.13,0) scale(0.887,1)">A</text><text transform="translate(18.42,0) scale(0.911,1)">D</text></g><g transform="translate(126.40,251.90)" font-size="10.17" fill="#262626" stroke="#262626"><text transform="translate(0.25,0) scale(0.856,1)">P</text><text transform="translate(6.00,0) scale(1.240,1)">r</text><text transform="translate(10.08,0) scale(1.046,1)">e</text><text transform="translate(16.14,0) scale(1.052,1)">d</text><text transform="translate(22.56,0) scale(0.990,1)">i</text><text transform="translate(25.16,0) scale(0.971,1)">c</text><text transform="translate(30.52,0) scale(1.294,1)">t</text><text transform="translate(34.41,0) scale(1.046,1)">e</text><text transform="translate(40.47,0) scale(1.052,1)">d</text><text transform="translate(49.85,0) scale(0.899,1)">C</text><text transform="translate(56.89,0) scale(0.990,1)">l</text><text transform="translate(59.59,0) scale(0.871,1)">a</text><text transform="translate(65.68,0) scale(0.928,1)">s</text><text transform="translate(70.81,0) scale(0.928,1)">s</text></g><g transform="translate(8.60,113.98) rotate(-90) translate(-23.00,0)" font-size="10.33" fill="#262626" stroke="#262626"><text transform="translate(-0.24,0) scale(0.940,1)">T</text><text transform="translate(5.49,0) scale(1.104,1)">r</text><text transform="translate(9.23,0) scale(0.929,1)">u</text><text transform="translate(14.82,0) scale(0.930,1)">e</text><text transform="translate(23.12,0) scale(0.800,1)">C</text><text transform="translate(29.48,0) scale(0.881,1)">l</text><text transform="translate(31.92,0) scale(0.775,1)">a</text><text transform="translate(37.43,0) scale(0.826,1)">s</text><text transform="translate(42.06,0) scale(0.826,1)">s</text></g><g transform="translate(320.85,222.70)" font-size="10.17" fill="#262626" stroke="#262626"><text transform="translate(0.24,0) scale(1.021,1)">0</text><text transform="translate(6.35,0) scale(1.048,1)">.</text><text transform="translate(9.64,0) scale(1.021,1)">0</text></g><g transform="translate(320.85,198.60)" font-size="10.17" fill="#262626" stroke="#262626"><text transform="translate(0.24,0) scale(1.021,1)">0</text><text transform="translate(6.35,0) scale(1.048,1)">.</text><text transform="translate(9.72,0) scale(0.975,1)">1</text></g><g transform="translate(320.85,174.49)" font-size="10.17" fill="#262626" stroke="#262626"><text transform="translate(0.24,0) scale(1.021,1)">0</text><text transform="translate(6.35,0) scale(1.048,1)">.</text><text transform="translate(9.62,0) scale(0.984,1)">2</text></g><g transform="translate(320.85,150.39)" font-size="10.17" fill="#262626" stroke="#262626"><text transform="translate(0.24,0) scale(1.021,1)">0</text><text transform="translate(6.35,0) scale(1.048,1)">.</text><text transform="translate(9.77,0) scale(0.980,1)">3</text></g><g transform="translate(320.85,126.28)" font-size="10.17" fill="#262626" stroke="#262626"><text transform="translate(0.24,0) scale(1.021,1)">0</text><text transform="translate(6.35,0) scale(1.048,1)">.</text><text transform="translate(9.64,0) scale(1.021,1)">4</text></g><g transform="translate(320.85,102.18)" font-size="10.17" fill="#262626" stroke="#262626"><text transform="translate(0.24,0) scale(1.021,1)">0</text><text transform="translate(6.35,0) scale(1.048,1)">.</text><text transform="translate(9.77,0) scale(0.963,1)">5</text></g><g transform="translate(320.85,78.07)" font-size="10.17" fill="#262626" stroke="#262626"><text transform="translate(0.24,0) scale(1.021,1)">0</text><text transform="translate(6.35,0) scale(1.048,1)">.</text><text transform="translate(9.54,0) scale(1.056,1)">6</text></g><g transform="translate(320.85,53.97)" font-size="10.17" fill="#262626" stroke="#262626"><text transform="translate(0.24,0) scale(1.021,1)">0</text><text transform="translate(6.35,0) scale(1.048,1)">.</text><text x="9.68" y="0">7</text></g><g transform="translate(320.85,29.86)" font-size="10.17" fill="#262626" stroke="#262626"><text transform="translate(0.24,0) scale(1.021,1)">0</text><text transform="translate(6.35,0) scale(1.048,1)">.</text><text transform="translate(9.61,0) scale(1.032,1)">8</text></g><g transform="translate(53.21,316.42)" font-size="10.17" fill="#ffffff" stroke="#ffffff"><text transform="translate(0.24,0) scale(1.021,1)">0</text><text transform="translate(6.35,0) scale(1.048,1)">.</text><text transform="translate(9.61,0) scale(1.032,1)">8</text><text x="15.95" y="0">7</text></g><g transform="translate(103.41,316.42)" font-size="10.17" fill="#262626" stroke="#262626"><text transform="translate(0.24,0) scale(1.021,1)">0</text><text transform="translate(6.35,0) scale(1.048,1)">.</text><text transform="translate(9.64,0) scale(1.021,1)">0</text><text x="15.95" y="0">7</text></g><g transform="translate(147.34,316.42)" font-size="10.17" fill="#262626" stroke="#262626"><text transform="translate(0.24,0) scale(1.021,1)">0</text><text transform="translate(6.35,0) scale(1.048,1)">.</text><text transform="translate(9.64,0) scale(1.021,1)">0</text><text transform="translate(15.91,0) scale(1.021,1)">0</text><text transform="translate(22.14,0) scale(1.032,1)">8</text><text x="28.48" y="0">7</text></g><g transform="translate(200.75,316.42)" font-size="10.17" fill="#262626" stroke="#262626"><text transform="translate(0.24,0) scale(1.021,1)">0</text><text transform="translate(6.35,0) scale(1.048,1)">.</text><text transform="translate(9.64,0) scale(1.021,1)">0</text><text transform="translate(16.03,0) scale(0.963,1)">5</text><text transform="translate(22.15,0) scale(0.984,1)">2</text></g><g transform="translate(261.75,316.42)" font-size="10.17" fill="#262626" stroke="#262626"><text transform="translate(0.24,0) scale(1.021,1)">0</text></g><g transform="translate(53.24,358.86)" font-size="10.17" fill="#262626" stroke="#262626"><text transform="translate(0.24,0) scale(1.021,1)">0</text><text transform="translate(6.35,0) scale(1.048,1)">.</text><text transform="translate(9.72,0) scale(0.975,1)">1</text><text transform="translate(15.99,0) scale(0.975,1)">1</text></g><g transform="translate(103.41,358.86)" font-size="10.17" fill="#ffffff" stroke="#ffffff"><text transform="translate(0.24,0) scale(1.021,1)">0</text><text transform="translate(6.35,0) scale(1.048,1)">.</text><text x="9.68" y="0">7</text><text x="15.95" y="0">7</text></g><g transform="translate(150.55,358.86)" font-size="10.17" fill="#262626" stroke="#262626"><text transform="translate(0.24,0) scale(1.021,1)">0</text><text transform="translate(6.35,0) scale(1.048,1)">.</text><text transform="translate(9.64,0) scale(1.021,1)">0</text><text transform="translate(16.04,0) scale(0.980,1)">3</text><text transform="translate(22.15,0) scale(0.984,1)">2</text></g><g transform="translate(200.69,358.86)" font-size="10.17" fill="#262626" stroke="#262626"><text transform="translate(0.24,0) scale(1.021,1)">0</text><text transform="translate(6.35,0) scale(1.048,1)">.</text><text transform="translate(9.64,0) scale(1.021,1)">0</text><text transform="translate(15.78,0) scale(1.054,1)">9</text><text transform="translate(22.30,0) scale(0.963,1)">5</text></g><g transform="translate(261.75,358.86)" font-size="10.17" fill="#262626" stroke="#262626"><text transform="translate(0.24,0) scale(1.021,1)">0</text></g><g transform="translate(50.11,401.30)" font-size="10.17" fill="#262626" stroke="#262626"><text transform="translate(0.24,0) scale(1.021,1)">0</text><text transform="translate(6.35,0) scale(1.048,1)">.</text><text transform="translate(9.64,0) scale(1.021,1)">0</text><text transform="translate(15.88,0) scale(0.984,1)">2</text><text transform="translate(22.26,0) scale(0.975,1)">1</text></g><g transform="translate(111.15,401.30)" font-size="10.17" fill="#262626" stroke="#262626"><text transform="translate(0.24,0) scale(1.021,1)">0</text></g><g transform="translate(153.47,401.30)" font-size="10.17" fill="#ffffff" stroke="#ffffff"><text transform="translate(0.24,0) scale(1.021,1)">0</text><text transform="translate(6.35,0) scale(1.048,1)">.</text><text transform="translate(9.52,0) scale(1.054,1)">9</text><text transform="translate(15.91,0) scale(1.021,1)">4</text></g><g transform="translate(211.55,401.30)" font-size="10.17" fill="#262626" stroke="#262626"><text transform="translate(0.24,0) scale(1.021,1)">0</text></g><g transform="translate(250.95,401.30)" font-size="10.17" fill="#262626" stroke="#262626"><text transform="translate(0.24,0) scale(1.021,1)">0</text><text transform="translate(6.35,0) scale(1.048,1)">.</text><text transform="translate(9.64,0) scale(1.021,1)">0</text><text transform="translate(15.91,0) scale(1.021,1)">4</text><text transform="translate(22.15,0) scale(0.984,1)">2</text></g><g transform="translate(53.24,443.74)" font-size="10.17" fill="#262626" stroke="#262626"><text transform="translate(0.24,0) scale(1.021,1)">0</text><text transform="translate(6.35,0) scale(1.048,1)">.</text><text transform="translate(9.77,0) scale(0.980,1)">3</text><text transform="translate(15.99,0) scale(0.975,1)">1</text></g><g transform="translate(103.48,443.74)" font-size="10.17" fill="#262626" stroke="#262626"><text transform="translate(0.24,0) scale(1.021,1)">0</text><text transform="translate(6.35,0) scale(1.048,1)">.</text><text transform="translate(9.64,0) scale(1.021,1)">4</text><text transform="translate(15.88,0) scale(0.984,1)">2</text></g><g transform="translate(161.35,443.74)" font-size="10.17" fill="#262626" stroke="#262626"><text transform="translate(0.24,0) scale(1.021,1)">0</text></g><g transform="translate(203.81,443.74)" font-size="10.17" fill="#262626" stroke="#262626"><text transform="translate(0.24,0) scale(1.021,1)">0</text><text transform="translate(6.35,0) scale(1.048,1)">.</text><text transform="translate(9.62,0) scale(0.984,1)">2</text><text x="15.95" y="0">7</text></g><g transform="translate(261.75,443.74)" font-size="10.17" fill="#262626" stroke="#262626"><text transform="translate(0.24,0) scale(1.021,1)">0</text></g><g transform="translate(60.95,486.18)" font-size="10.17" fill="#262626" stroke="#262626"><text transform="translate(0.24,0) scale(1.021,1)">0</text></g><g transform="translate(111.15,486.18)" font-size="10.17" fill="#262626" stroke="#262626"><text transform="translate(0.24,0) scale(1.021,1)">0</text></g><g transform="translate(153.58,486.18)" font-size="10.17" fill="#ffffff" stroke="#ffffff"><text transform="translate(0.24,0) scale(1.021,1)">0</text><text transform="translate(6.35,0) scale(1.048,1)">.</text><text transform="translate(9.54,0) scale(1.056,1)">6</text><text transform="translate(16.04,0) scale(0.980,1)">3</text></g><g transform="translate(211.55,486.18)" font-size="10.17" fill="#262626" stroke="#262626"><text transform="translate(0.24,0) scale(1.021,1)">0</text></g><g transform="translate(254.01,486.18)" font-size="10.17" fill="#262626" stroke="#262626"><text transform="translate(0.24,0) scale(1.021,1)">0</text><text transform="translate(6.35,0) scale(1.048,1)">.</text><text transform="translate(9.77,0) scale(0.980,1)">3</text><text x="15.95" y="0">7</text></g><g transform="translate(49.91,514.80)" font-size="10.17" fill="#262626" stroke="#262626"><text transform="translate(0.16,0) scale(0.963,1)">H</text><text transform="translate(7.58,0) scale(0.956,1)">N</text><text transform="translate(15.03,0) scale(0.863,1)">S</text><text transform="translate(21.12,0) scale(0.899,1)">C</text></g><g transform="translate(100.95,514.80)" font-size="10.17" fill="#262626" stroke="#262626"><text transform="translate(0.25,0) scale(0.863,1)">S</text><text transform="translate(5.98,0) scale(1.056,1)">T</text><text transform="translate(12.33,0) scale(0.975,1)">A</text><text x="19.14" y="0">D</text></g><g transform="translate(150.02,514.80)" font-size="10.17" fill="#262626" stroke="#262626"><text transform="translate(0.09,0) scale(0.899,1)">C</text><text transform="translate(6.97,0) scale(0.957,1)">O</text><text transform="translate(14.69,0) scale(0.975,1)">A</text><text x="21.51" y="0">D</text></g><g transform="translate(201.19,514.80)" font-size="10.17" fill="#262626" stroke="#262626"><text transform="translate(0.27,0) scale(0.839,1)">E</text><text transform="translate(6.47,0) scale(0.863,1)">S</text><text transform="translate(12.56,0) scale(0.899,1)">C</text><text transform="translate(19.41,0) scale(0.975,1)">A</text></g><g transform="translate(250.99,514.80)" font-size="10.17" fill="#262626" stroke="#262626"><text transform="translate(0.19,0) scale(0.926,1)">R</text><text transform="translate(7.11,0) scale(0.839,1)">E</text><text transform="translate(13.13,0) scale(0.975,1)">A</text><text x="19.94" y="0">D</text></g><g transform="translate(34.18,314.32) rotate(-90) translate(-13.09,0)" font-size="10.33" fill="#262626" stroke="#262626"><text transform="translate(0.15,0) scale(0.876,1)">H</text><text transform="translate(7.00,0) scale(0.870,1)">N</text><text transform="translate(13.88,0) scale(0.785,1)">S</text><text transform="translate(19.51,0) scale(0.818,1)">C</text></g><g transform="translate(34.18,356.76) rotate(-90) translate(-12.31,0)" font-size="10.33" fill="#262626" stroke="#262626"><text transform="translate(0.23,0) scale(0.785,1)">S</text><text transform="translate(5.53,0) scale(0.961,1)">T</text><text transform="translate(11.39,0) scale(0.887,1)">A</text><text transform="translate(17.68,0) scale(0.911,1)">D</text></g><g transform="translate(34.18,399.20) rotate(-90) translate(-13.36,0)" font-size="10.33" fill="#262626" stroke="#262626"><text transform="translate(0.08,0) scale(0.818,1)">C</text><text transform="translate(6.44,0) scale(0.871,1)">O</text><text transform="translate(13.57,0) scale(0.887,1)">A</text><text transform="translate(19.86,0) scale(0.911,1)">D</text></g><g transform="translate(34.18,441.64) rotate(-90) translate(-12.46,0)" font-size="10.33" fill="#262626" stroke="#262626"><text transform="translate(0.25,0) scale(0.763,1)">E</text><text transform="translate(5.98,0) scale(0.785,1)">S</text><text transform="translate(11.61,0) scale(0.818,1)">C</text><text transform="translate(17.93,0) scale(0.887,1)">A</text></g><g transform="translate(34.18,484.08) rotate(-90) translate(-12.83,0)" font-size="10.33" fill="#262626" stroke="#262626"><text transform="translate(0.18,0) scale(0.842,1)">R</text><text transform="translate(6.57,0) scale(0.763,1)">E</text><text transform="translate(12.13,0) scale(0.887,1)">A</text><text transform="translate(18.42,0) scale(0.911,1)">D</text></g><g transform="translate(126.40,536.90)" font-size="10.17" fill="#262626" stroke="#262626"><text transform="translate(0.25,0) scale(0.856,1)">P</text><text transform="translate(6.00,0) scale(1.240,1)">r</text><text transform="translate(10.08,0) scale(1.046,1)">e</text><text transform="translate(16.14,0) scale(1.052,1)">d</text><text transform="translate(22.56,0) scale(0.990,1)">i</text><text transform="translate(25.16,0) scale(0.971,1)">c</text><text transform="translate(30.52,0) scale(1.294,1)">t</text><text transform="translate(34.41,0) scale(1.046,1)">e</text><text transform="translate(40.47,0) scale(1.052,1)">d</text><text transform="translate(49.85,0) scale(0.899,1)">C</text><text transform="translate(56.89,0) scale(0.990,1)">l</text><text transform="translate(59.59,0) scale(0.871,1)">a</text><text transform="translate(65.68,0) scale(0.928,1)">s</text><text transform="translate(70.81,0) scale(0.928,1)">s</text></g><g transform="translate(8.60,398.90) rotate(-90) translate(-23.00,0)" font-size="10.33" fill="#262626" stroke="#262626"><text transform="translate(-0.24,0) scale(0.940,1)">T</text><text transform="translate(5.49,0) scale(1.104,1)">r</text><text transform="translate(9.23,0) scale(0.929,1)">u</text><text transform="translate(14.82,0) scale(0.930,1)">e</text><text transform="translate(23.12,0) scale(0.800,1)">C</text><text transform="translate(29.48,0) scale(0.881,1)">l</text><text transform="translate(31.92,0) scale(0.775,1)">a</text><text transform="translate(37.43,0) scale(0.826,1)">s</text><text transform="translate(42.06,0) scale(0.826,1)">s</text></g><g transform="translate(320.75,507.70)" font-size="10.17" fill="#262626" stroke="#262626"><text transform="translate(0.24,0) scale(1.021,1)">0</text><text transform="translate(6.35,0) scale(1.048,1)">.</text><text transform="translate(9.64,0) scale(1.021,1)">0</text></g><g transform="translate(320.75,462.74)" font-size="10.17" fill="#262626" stroke="#262626"><text transform="translate(0.24,0) scale(1.021,1)">0</text><text transform="translate(6.35,0) scale(1.048,1)">.</text><text transform="translate(9.62,0) scale(0.984,1)">2</text></g><g transform="translate(320.75,417.78)" font-size="10.17" fill="#262626" stroke="#262626"><text transform="translate(0.24,0) scale(1.021,1)">0</text><text transform="translate(6.35,0) scale(1.048,1)">.</text><text transform="translate(9.64,0) scale(1.021,1)">4</text></g><g transform="translate(320.75,372.83)" font-size="10.17" fill="#262626" stroke="#262626"><text transform="translate(0.24,0) scale(1.021,1)">0</text><text transform="translate(6.35,0) scale(1.048,1)">.</text><text transform="translate(9.54,0) scale(1.056,1)">6</text></g><g transform="translate(320.75,327.87)" font-size="10.17" fill="#262626" stroke="#262626"><text transform="translate(0.24,0) scale(1.021,1)">0</text><text transform="translate(6.35,0) scale(1.048,1)">.</text><text transform="translate(9.61,0) scale(1.032,1)">8</text></g><g transform="translate(54.00,602.61)" font-size="10.17" fill="#ffffff" stroke="#ffffff"><text transform="translate(0.24,0) scale(1.021,1)">0</text><text transform="translate(6.35,0) scale(1.048,1)">.</text><text transform="translate(9.61,0) scale(1.032,1)">8</text><text transform="translate(15.88,0) scale(1.032,1)">8</text></g><g transform="translate(101.22,602.61)" font-size="10.17" fill="#262626" stroke="#262626"><text transform="translate(0.24,0) scale(1.021,1)">0</text><text transform="translate(6.35,0) scale(1.048,1)">.</text><text transform="translate(9.64,0) scale(1.021,1)">0</text><text transform="translate(16.03,0) scale(0.963,1)">5</text><text transform="translate(22.15,0) scale(0.984,1)">2</text></g><g transform="translate(162.22,602.61)" font-size="10.17" fill="#262626" stroke="#262626"><text transform="translate(0.24,0) scale(1.021,1)">0</text></g><g transform="translate(204.68,602.61)" font-size="10.17" fill="#262626" stroke="#262626"><text transform="translate(0.24,0) scale(1.021,1)">0</text><text transform="translate(6.35,0) scale(1.048,1)">.</text><text transform="translate(9.64,0) scale(1.021,1)">0</text><text x="15.95" y="0">7</text></g><g transform="translate(262.62,602.61)" font-size="10.17" fill="#262626" stroke="#262626"><text transform="translate(0.24,0) scale(1.021,1)">0</text></g><g transform="translate(50.96,645.03)" font-size="10.17" fill="#262626" stroke="#262626"><text transform="translate(0.24,0) scale(1.021,1)">0</text><text transform="translate(6.35,0) scale(1.048,1)">.</text><text transform="translate(9.64,0) scale(1.021,1)">0</text><text transform="translate(15.78,0) scale(1.054,1)">9</text><text transform="translate(22.30,0) scale(0.963,1)">5</text></g><g transform="translate(104.20,645.03)" font-size="10.17" fill="#ffffff" stroke="#ffffff"><text transform="translate(0.24,0) scale(1.021,1)">0</text><text transform="translate(6.35,0) scale(1.048,1)">.</text><text x="9.68" y="0">7</text><text transform="translate(15.88,0) scale(1.032,1)">8</text></g><g transform="translate(151.32,645.03)" font-size="10.17" fill="#262626" stroke="#262626"><text transform="translate(0.24,0) scale(1.021,1)">0</text><text transform="translate(6.35,0) scale(1.048,1)">.</text><text transform="translate(9.64,0) scale(1.021,1)">0</text><text transform="translate(16.03,0) scale(0.963,1)">5</text><text transform="translate(22.30,0) scale(0.980,1)">3</text></g><g transform="translate(201.40,645.03)" font-size="10.17" fill="#262626" stroke="#262626"><text transform="translate(0.24,0) scale(1.021,1)">0</text><text transform="translate(6.35,0) scale(1.048,1)">.</text><text transform="translate(9.64,0) scale(1.021,1)">0</text><text x="15.95" y="0">7</text><text transform="translate(22.17,0) scale(1.021,1)">4</text></g><g transform="translate(262.62,645.03)" font-size="10.17" fill="#262626" stroke="#262626"><text transform="translate(0.24,0) scale(1.021,1)">0</text></g><g transform="translate(61.82,687.45)" font-size="10.17" fill="#262626" stroke="#262626"><text transform="translate(0.24,0) scale(1.021,1)">0</text></g><g transform="translate(112.02,687.45)" font-size="10.17" fill="#262626" stroke="#262626"><text transform="translate(0.24,0) scale(1.021,1)">0</text></g><g transform="translate(154.40,687.45)" font-size="10.17" fill="#ffffff" stroke="#ffffff"><text transform="translate(0.24,0) scale(1.021,1)">0</text><text transform="translate(6.35,0) scale(1.048,1)">.</text><text transform="translate(9.52,0) scale(1.054,1)">9</text><text transform="translate(15.88,0) scale(1.032,1)">8</text></g><g transform="translate(212.42,687.45)" font-size="10.17" fill="#262626" stroke="#262626"><text transform="translate(0.24,0) scale(1.021,1)">0</text></g><g transform="translate(251.78,687.45)" font-size="10.17" fill="#262626" stroke="#262626"><text transform="translate(0.24,0) scale(1.021,1)">0</text><text transform="translate(6.35,0) scale(1.048,1)">.</text><text transform="translate(9.64,0) scale(1.021,1)">0</text><text transform="translate(15.88,0) scale(0.984,1)">2</text><text transform="translate(22.26,0) scale(0.975,1)">1</text></g><g transform="translate(53.94,729.87)" font-size="10.17" fill="#262626" stroke="#262626"><text transform="translate(0.24,0) scale(1.021,1)">0</text><text transform="translate(6.35,0) scale(1.048,1)">.</text><text transform="translate(9.62,0) scale(0.984,1)">2</text><text transform="translate(15.91,0) scale(1.021,1)">4</text></g><g transform="translate(107.27,729.87)" font-size="10.17" fill="#262626" stroke="#262626"><text transform="translate(0.24,0) scale(1.021,1)">0</text><text transform="translate(6.35,0) scale(1.048,1)">.</text><text transform="translate(9.64,0) scale(1.021,1)">4</text></g><g transform="translate(162.22,729.87)" font-size="10.17" fill="#262626" stroke="#262626"><text transform="translate(0.24,0) scale(1.021,1)">0</text></g><g transform="translate(204.57,729.87)" font-size="10.17" fill="#262626" stroke="#262626"><text transform="translate(0.24,0) scale(1.021,1)">0</text><text transform="translate(6.35,0) scale(1.048,1)">.</text><text transform="translate(9.77,0) scale(0.980,1)">3</text><text transform="translate(15.81,0) scale(1.056,1)">6</text></g><g transform="translate(262.62,729.87)" font-size="10.17" fill="#262626" stroke="#262626"><text transform="translate(0.24,0) scale(1.021,1)">0</text></g><g transform="translate(61.82,772.29)" font-size="10.17" fill="#262626" stroke="#262626"><text transform="translate(0.24,0) scale(1.021,1)">0</text></g><g transform="translate(112.02,772.29)" font-size="10.17" fill="#262626" stroke="#262626"><text transform="translate(0.24,0) scale(1.021,1)">0</text></g><g transform="translate(154.45,772.29)" font-size="10.17" fill="#ffffff" stroke="#ffffff"><text transform="translate(0.24,0) scale(1.021,1)">0</text><text transform="translate(6.35,0) scale(1.048,1)">.</text><text transform="translate(9.54,0) scale(1.056,1)">6</text><text transform="translate(16.04,0) scale(0.980,1)">3</text></g><g transform="translate(212.42,772.29)" font-size="10.17" fill="#262626" stroke="#262626"><text transform="translate(0.24,0) scale(1.021,1)">0</text></g><g transform="translate(254.88,772.29)" font-size="10.17" fill="#262626" stroke="#262626"><text transform="translate(0.24,0) scale(1.021,1)">0</text><text transform="translate(6.35,0) scale(1.048,1)">.</text><text transform="translate(9.77,0) scale(0.980,1)">3</text><text x="15.95" y="0">7</text></g><g transform="translate(50.78,800.90)" font-size="10.17" fill="#262626" stroke="#262626"><text transform="translate(0.16,0) scale(0.963,1)">H</text><text transform="translate(7.58,0) scale(0.956,1)">N</text><text transform="translate(15.03,0) scale(0.863,1)">S</text><text transform="translate(21.12,0) scale(0.899,1)">C</text></g><g transform="translate(101.82,800.90)" font-size="10.17" fill="#262626" stroke="#262626"><text transform="translate(0.25,0) scale(0.863,1)">S</text><text transform="translate(5.98,0) scale(1.056,1)">T</text><text transform="translate(12.33,0) scale(0.975,1)">A</text><text x="19.14" y="0">D</text></g><g transform="translate(150.89,800.90)" font-size="10.17" fill="#262626" stroke="#262626"><text transform="translate(0.09,0) scale(0.899,1)">C</text><text transform="translate(6.97,0) scale(0.957,1)">O</text><text transform="translate(14.69,0) scale(0.975,1)">A</text><text x="21.51" y="0">D</text></g><g transform="translate(202.06,800.90)" font-size="10.17" fill="#262626" stroke="#262626"><text transform="translate(0.27,0) scale(0.839,1)">E</text><text transform="translate(6.47,0) scale(0.863,1)">S</text><text transform="translate(12.56,0) scale(0.899,1)">C</text><text transform="translate(19.41,0) scale(0.975,1)">A</text></g><g transform="translate(251.86,800.90)" font-size="10.17" fill="#262626" stroke="#262626"><text transform="translate(0.19,0) scale(0.926,1)">R</text><text transform="translate(7.11,0) scale(0.839,1)">E</text><text transform="translate(13.13,0) scale(0.975,1)">A</text><text x="19.94" y="0">D</text></g><g transform="translate(35.05,600.51) rotate(-90) translate(-13.09,0)" font-size="10.33" fill="#262626" stroke="#262626"><text transform="translate(0.15,0) scale(0.876,1)">H</text><text transform="translate(7.00,0) scale(0.870,1)">N</text><text transform="translate(13.88,0) scale(0.785,1)">S</text><text transform="translate(19.51,0) scale(0.818,1)">C</text></g><g transform="translate(35.05,642.93) rotate(-90) translate(-12.31,0)" font-size="10.33" fill="#262626" stroke="#262626"><text transform="translate(0.23,0) scale(0.785,1)">S</text><text transform="translate(5.53,0) scale(0.961,1)">T</text><text transform="translate(11.39,0) scale(0.887,1)">A</text><text transform="translate(17.68,0) scale(0.911,1)">D</text></g><g transform="translate(35.05,685.35) rotate(-90) translate(-13.36,0)" font-size="10.33" fill="#262626" stroke="#262626"><text transform="translate(0.08,0) scale(0.818,1)">C</text><text transform="translate(6.44,0) scale(0.871,1)">O</text><text transform="translate(13.57,0) scale(0.887,1)">A</text><text transform="translate(19.86,0) scale(0.911,1)">D</text></g><g transform="translate(35.05,727.77) rotate(-90) translate(-12.46,0)" font-size="10.33" fill="#262626" stroke="#262626"><text transform="translate(0.25,0) scale(0.763,1)">E</text><text transform="translate(5.98,0) scale(0.785,1)">S</text><text transform="translate(11.61,0) scale(0.818,1)">C</text><text transform="translate(17.93,0) scale(0.887,1)">A</text></g><g transform="translate(35.05,770.19) rotate(-90) translate(-12.83,0)" font-size="10.33" fill="#262626" stroke="#262626"><text transform="translate(0.18,0) scale(0.842,1)">R</text><text transform="translate(6.57,0) scale(0.763,1)">E</text><text transform="translate(12.13,0) scale(0.887,1)">A</text><text transform="translate(18.42,0) scale(0.911,1)">D</text></g><g transform="translate(127.27,823.00)" font-size="10.17" fill="#262626" stroke="#262626"><text transform="translate(0.25,0) scale(0.856,1)">P</text><text transform="translate(6.00,0) scale(1.240,1)">r</text><text transform="translate(10.08,0) scale(1.046,1)">e</text><text transform="translate(16.14,0) scale(1.052,1)">d</text><text transform="translate(22.56,0) scale(0.990,1)">i</text><text transform="translate(25.16,0) scale(0.971,1)">c</text><text transform="translate(30.52,0) scale(1.294,1)">t</text><text transform="translate(34.41,0) scale(1.046,1)">e</text><text transform="translate(40.47,0) scale(1.052,1)">d</text><text transform="translate(49.85,0) scale(0.899,1)">C</text><text transform="translate(56.89,0) scale(0.990,1)">l</text><text transform="translate(59.59,0) scale(0.871,1)">a</text><text transform="translate(65.68,0) scale(0.928,1)">s</text><text transform="translate(70.81,0) scale(0.928,1)">s</text></g><g transform="translate(9.47,685.05) rotate(-90) translate(-23.00,0)" font-size="10.33" fill="#262626" stroke="#262626"><text transform="translate(-0.24,0) scale(0.940,1)">T</text><text transform="translate(5.49,0) scale(1.104,1)">r</text><text transform="translate(9.23,0) scale(0.929,1)">u</text><text transform="translate(14.82,0) scale(0.930,1)">e</text><text transform="translate(23.12,0) scale(0.800,1)">C</text><text transform="translate(29.48,0) scale(0.881,1)">l</text><text transform="translate(31.92,0) scale(0.775,1)">a</text><text transform="translate(37.43,0) scale(0.826,1)">s</text><text transform="translate(42.06,0) scale(0.826,1)">s</text></g><g transform="translate(321.70,793.80)" font-size="10.17" fill="#262626" stroke="#262626"><text transform="translate(0.24,0) scale(1.021,1)">0</text><text transform="translate(6.35,0) scale(1.048,1)">.</text><text transform="translate(9.64,0) scale(1.021,1)">0</text></g><g transform="translate(321.70,750.51)" font-size="10.17" fill="#262626" stroke="#262626"><text transform="translate(0.24,0) scale(1.021,1)">0</text><text transform="translate(6.35,0) scale(1.048,1)">.</text><text transform="translate(9.62,0) scale(0.984,1)">2</text></g><g transform="translate(321.70,707.23)" font-size="10.17" fill="#262626" stroke="#262626"><text transform="translate(0.24,0) scale(1.021,1)">0</text><text transform="translate(6.35,0) scale(1.048,1)">.</text><text transform="translate(9.64,0) scale(1.021,1)">4</text></g><g transform="translate(321.70,663.94)" font-size="10.17" fill="#262626" stroke="#262626"><text transform="translate(0.24,0) scale(1.021,1)">0</text><text transform="translate(6.35,0) scale(1.048,1)">.</text><text transform="translate(9.54,0) scale(1.056,1)">6</text></g><g transform="translate(321.70,620.66)" font-size="10.17" fill="#262626" stroke="#262626"><text transform="translate(0.24,0) scale(1.021,1)">0</text><text transform="translate(6.35,0) scale(1.048,1)">.</text><text transform="translate(9.61,0) scale(1.032,1)">8</text></g><g transform="translate(425.50,245.67)" font-size="10.38" fill="#262626" stroke="#262626"><text transform="translate(0.28,0) scale(1.137,1)">0</text><text transform="translate(7.22,0) scale(1.167,1)">.</text><text transform="translate(10.96,0) scale(1.137,1)">0</text></g><g transform="translate(399.69,227.10)" font-size="10.38" fill="#262626" stroke="#262626"><text transform="translate(0.28,0) scale(1.137,1)">0</text><text transform="translate(7.22,0) scale(1.167,1)">.</text><text transform="translate(10.96,0) scale(1.137,1)">0</text></g><g transform="translate(473.05,245.67)" font-size="10.38" fill="#262626" stroke="#262626"><text transform="translate(0.28,0) scale(1.137,1)">0</text><text transform="translate(7.22,0) scale(1.167,1)">.</text><text transform="translate(10.93,0) scale(1.096,1)">2</text></g><g transform="translate(400.07,184.80)" font-size="10.38" fill="#262626" stroke="#262626"><text transform="translate(0.28,0) scale(1.137,1)">0</text><text transform="translate(7.22,0) scale(1.167,1)">.</text><text transform="translate(10.93,0) scale(1.096,1)">2</text></g><g transform="translate(520.16,245.67)" font-size="10.38" fill="#262626" stroke="#262626"><text transform="translate(0.28,0) scale(1.137,1)">0</text><text transform="translate(7.22,0) scale(1.167,1)">.</text><text transform="translate(10.96,0) scale(1.137,1)">4</text></g><g transform="translate(399.58,142.50)" font-size="10.38" fill="#262626" stroke="#262626"><text transform="translate(0.28,0) scale(1.137,1)">0</text><text transform="translate(7.22,0) scale(1.167,1)">.</text><text transform="translate(10.96,0) scale(1.137,1)">4</text></g><g transform="translate(567.56,245.67)" font-size="10.38" fill="#262626" stroke="#262626"><text transform="translate(0.28,0) scale(1.137,1)">0</text><text transform="translate(7.22,0) scale(1.167,1)">.</text><text transform="translate(10.85,0) scale(1.177,1)">6</text></g><g transform="translate(399.65,100.20)" font-size="10.38" fill="#262626" stroke="#262626"><text transform="translate(0.28,0) scale(1.137,1)">0</text><text transform="translate(7.22,0) scale(1.167,1)">.</text><text transform="translate(10.85,0) scale(1.177,1)">6</text></g><g transform="translate(614.95,245.67)" font-size="10.38" fill="#262626" stroke="#262626"><text transform="translate(0.28,0) scale(1.137,1)">0</text><text transform="translate(7.22,0) scale(1.167,1)">.</text><text transform="translate(10.93,0) scale(1.149,1)">8</text></g><g transform="translate(399.71,57.90)" font-size="10.38" fill="#262626" stroke="#262626"><text transform="translate(0.28,0) scale(1.137,1)">0</text><text transform="translate(7.22,0) scale(1.167,1)">.</text><text transform="translate(10.93,0) scale(1.149,1)">8</text></g><g transform="translate(662.05,245.67)" font-size="10.38" fill="#262626" stroke="#262626"><text transform="translate(0.37,0) scale(1.086,1)">1</text><text transform="translate(7.22,0) scale(1.167,1)">.</text><text transform="translate(10.96,0) scale(1.137,1)">0</text></g><g transform="translate(399.69,15.60)" font-size="10.38" fill="#262626" stroke="#262626"><text transform="translate(0.37,0) scale(1.086,1)">1</text><text transform="translate(7.22,0) scale(1.167,1)">.</text><text transform="translate(10.96,0) scale(1.137,1)">0</text></g><g transform="translate(500.07,258.38)" font-size="10.38" fill="#262626" stroke="#262626"><text transform="translate(0.31,0) scale(0.924,1)">F</text><text transform="translate(6.69,0) scale(0.970,1)">a</text><text transform="translate(13.59,0) scale(1.103,1)">l</text><text transform="translate(16.73,0) scale(1.034,1)">s</text><text transform="translate(22.36,0) scale(1.165,1)">e</text><text transform="translate(32.99,0) scale(0.954,1)">P</text><text transform="translate(39.58,0) scale(1.147,1)">o</text><text transform="translate(46.62,0) scale(1.034,1)">s</text><text transform="translate(52.43,0) scale(1.103,1)">i</text><text transform="translate(55.33,0) scale(1.442,1)">t</text><text transform="translate(59.94,0) scale(1.103,1)">i</text><text transform="translate(63.05,0) scale(1.164,1)">v</text><text transform="translate(69.49,0) scale(1.165,1)">e</text><text transform="translate(80.06,0) scale(1.032,1)">R</text><text transform="translate(87.87,0) scale(0.970,1)">a</text><text transform="translate(94.56,0) scale(1.442,1)">t</text><text transform="translate(98.98,0) scale(1.165,1)">e</text></g><g transform="translate(394.46,117.85) rotate(-90) translate(-44.38,0)" font-size="10.91" fill="#262626" stroke="#262626"><text transform="translate(-0.27,0) scale(0.980,1)">T</text><text transform="translate(6.04,0) scale(1.151,1)">r</text><text transform="translate(10.16,0) scale(0.969,1)">u</text><text transform="translate(16.32,0) scale(0.970,1)">e</text><text transform="translate(25.62,0) scale(0.795,1)">P</text><text transform="translate(31.38,0) scale(0.955,1)">o</text><text transform="translate(37.55,0) scale(0.861,1)">s</text><text transform="translate(42.64,0) scale(0.918,1)">i</text><text transform="translate(45.17,0) scale(1.201,1)">t</text><text transform="translate(49.20,0) scale(0.918,1)">i</text><text transform="translate(51.93,0) scale(0.970,1)">v</text><text transform="translate(57.56,0) scale(0.970,1)">e</text><text transform="translate(66.81,0) scale(0.859,1)">R</text><text transform="translate(73.64,0) scale(0.808,1)">a</text><text transform="translate(79.49,0) scale(1.201,1)">t</text><text transform="translate(83.36,0) scale(0.970,1)">e</text></g><line x1="460.96" y1="203.97" x2="484.76" y2="203.97" stroke="#6464ee" stroke-width="1.5"/><line x1="460.96" y1="219.47" x2="484.36" y2="219.47" stroke="#333" stroke-width="1.0" stroke-dasharray="3.6 1.35"/><g transform="translate(492.85,207.87)" font-size="10.38" fill="#262626" stroke="#262626"><text transform="translate(0.19,0) scale(1.090,1)">M</text><text transform="translate(9.90,0) scale(1.181,1)">e</text><text transform="translate(17.02,0) scale(0.983,1)">a</text><text transform="translate(23.95,0) scale(1.178,1)">n</text><text transform="translate(34.76,0) scale(1.045,1)">R</text><text transform="translate(42.52,0) scale(1.080,1)">O</text><text transform="translate(51.45,0) scale(1.015,1)">C</text><text transform="translate(63.27,0) scale(0.924,1)">(</text><text transform="translate(67.38,0) scale(1.101,1)">A</text><text transform="translate(75.20,0) scale(1.074,1)">U</text><text transform="translate(83.49,0) scale(1.015,1)">C</text><text transform="translate(95.41,0) scale(1.408,1)">=</text><text transform="translate(108.32,0) scale(1.152,1)">0</text><text transform="translate(115.35,0) scale(1.183,1)">.</text><text transform="translate(119.00,0) scale(1.190,1)">9</text><text transform="translate(126.37,0) scale(1.152,1)">0</text><text transform="translate(137.65,0) scale(1.408,1)">&#177;</text><text transform="translate(150.31,0) scale(1.152,1)">0</text><text transform="translate(157.35,0) scale(1.183,1)">.</text><text transform="translate(161.14,0) scale(1.152,1)">0</text><text transform="translate(168.46,0) scale(1.100,1)">1</text><text transform="translate(176.16,0) scale(0.924,1)">)</text></g><g transform="translate(493.33,223.17)" font-size="10.38" fill="#262626" stroke="#262626"><text transform="translate(0.14,0) scale(1.097,1)">c</text><text transform="translate(6.42,0) scale(1.187,1)">h</text><text transform="translate(13.68,0) scale(0.983,1)">a</text><text transform="translate(20.61,0) scale(1.178,1)">n</text><text transform="translate(27.72,0) scale(1.097,1)">c</text><text transform="translate(33.93,0) scale(1.181,1)">e</text><text transform="translate(44.70,0) scale(1.117,1)">l</text><text transform="translate(47.67,0) scale(1.181,1)">e</text><text transform="translate(54.85,0) scale(1.180,1)">v</text><text transform="translate(61.37,0) scale(1.181,1)">e</text><text transform="translate(68.54,0) scale(1.117,1)">l</text><text transform="translate(75.39,0) scale(0.924,1)">(</text><text transform="translate(79.51,0) scale(1.101,1)">A</text><text transform="translate(87.33,0) scale(1.074,1)">U</text><text transform="translate(95.61,0) scale(1.015,1)">C</text><text transform="translate(107.53,0) scale(1.408,1)">=</text><text transform="translate(120.44,0) scale(1.152,1)">0</text><text transform="translate(127.48,0) scale(1.183,1)">.</text><text transform="translate(131.41,0) scale(1.087,1)">5</text><text transform="translate(139.06,0) scale(0.924,1)">)</text></g><text transform="translate(362.5,258.5) scale(1.1,1)" font-size="12.7" font-weight="bold" fill="#111" stroke="#111">(a)</text><g transform="translate(425.50,530.69)" font-size="10.38" fill="#262626" stroke="#262626"><text transform="translate(0.28,0) scale(1.137,1)">0</text><text transform="translate(7.22,0) scale(1.167,1)">.</text><text transform="translate(10.96,0) scale(1.137,1)">0</text></g><g transform="translate(399.69,512.10)" font-size="10.38" fill="#262626" stroke="#262626"><text transform="translate(0.28,0) scale(1.137,1)">0</text><text transform="translate(7.22,0) scale(1.167,1)">.</text><text transform="translate(10.96,0) scale(1.137,1)">0</text></g><g transform="translate(473.05,530.69)" font-size="10.38" fill="#262626" stroke="#262626"><text transform="translate(0.28,0) scale(1.137,1)">0</text><text transform="translate(7.22,0) scale(1.167,1)">.</text><text transform="translate(10.93,0) scale(1.096,1)">2</text></g><g transform="translate(400.07,469.74)" font-size="10.38" fill="#262626" stroke="#262626"><text transform="translate(0.28,0) scale(1.137,1)">0</text><text transform="translate(7.22,0) scale(1.167,1)">.</text><text transform="translate(10.93,0) scale(1.096,1)">2</text></g><g transform="translate(520.16,530.69)" font-size="10.38" fill="#262626" stroke="#262626"><text transform="translate(0.28,0) scale(1.137,1)">0</text><text transform="translate(7.22,0) scale(1.167,1)">.</text><text transform="translate(10.96,0) scale(1.137,1)">4</text></g><g transform="translate(399.58,427.38)" font-size="10.38" fill="#262626" stroke="#262626"><text transform="translate(0.28,0) scale(1.137,1)">0</text><text transform="translate(7.22,0) scale(1.167,1)">.</text><text transform="translate(10.96,0) scale(1.137,1)">4</text></g><g transform="translate(567.56,530.69)" font-size="10.38" fill="#262626" stroke="#262626"><text transform="translate(0.28,0) scale(1.137,1)">0</text><text transform="translate(7.22,0) scale(1.167,1)">.</text><text transform="translate(10.85,0) scale(1.177,1)">6</text></g><g transform="translate(399.65,385.02)" font-size="10.38" fill="#262626" stroke="#262626"><text transform="translate(0.28,0) scale(1.137,1)">0</text><text transform="translate(7.22,0) scale(1.167,1)">.</text><text transform="translate(10.85,0) scale(1.177,1)">6</text></g><g transform="translate(614.95,530.69)" font-size="10.38" fill="#262626" stroke="#262626"><text transform="translate(0.28,0) scale(1.137,1)">0</text><text transform="translate(7.22,0) scale(1.167,1)">.</text><text transform="translate(10.93,0) scale(1.149,1)">8</text></g><g transform="translate(399.71,342.66)" font-size="10.38" fill="#262626" stroke="#262626"><text transform="translate(0.28,0) scale(1.137,1)">0</text><text transform="translate(7.22,0) scale(1.167,1)">.</text><text transform="translate(10.93,0) scale(1.149,1)">8</text></g><g transform="translate(662.05,530.69)" font-size="10.38" fill="#262626" stroke="#262626"><text transform="translate(0.37,0) scale(1.086,1)">1</text><text transform="translate(7.22,0) scale(1.167,1)">.</text><text transform="translate(10.96,0) scale(1.137,1)">0</text></g><g transform="translate(399.69,300.30)" font-size="10.38" fill="#262626" stroke="#262626"><text transform="translate(0.37,0) scale(1.086,1)">1</text><text transform="translate(7.22,0) scale(1.167,1)">.</text><text transform="translate(10.96,0) scale(1.137,1)">0</text></g><g transform="translate(500.07,543.39)" font-size="10.38" fill="#262626" stroke="#262626"><text transform="translate(0.31,0) scale(0.924,1)">F</text><text transform="translate(6.69,0) scale(0.970,1)">a</text><text transform="translate(13.59,0) scale(1.103,1)">l</text><text transform="translate(16.73,0) scale(1.034,1)">s</text><text transform="translate(22.36,0) scale(1.165,1)">e</text><text transform="translate(32.99,0) scale(0.954,1)">P</text><text transform="translate(39.58,0) scale(1.147,1)">o</text><text transform="translate(46.62,0) scale(1.034,1)">s</text><text transform="translate(52.43,0) scale(1.103,1)">i</text><text transform="translate(55.33,0) scale(1.442,1)">t</text><text transform="translate(59.94,0) scale(1.103,1)">i</text><text transform="translate(63.05,0) scale(1.164,1)">v</text><text transform="translate(69.49,0) scale(1.165,1)">e</text><text transform="translate(80.06,0) scale(1.032,1)">R</text><text transform="translate(87.87,0) scale(0.970,1)">a</text><text transform="translate(94.56,0) scale(1.442,1)">t</text><text transform="translate(98.98,0) scale(1.165,1)">e</text></g><g transform="translate(394.46,402.70) rotate(-90) translate(-44.38,0)" font-size="10.91" fill="#262626" stroke="#262626"><text transform="translate(-0.27,0) scale(0.980,1)">T</text><text transform="translate(6.04,0) scale(1.151,1)">r</text><text transform="translate(10.16,0) scale(0.969,1)">u</text><text transform="translate(16.32,0) scale(0.970,1)">e</text><text transform="translate(25.62,0) scale(0.795,1)">P</text><text transform="translate(31.38,0) scale(0.955,1)">o</text><text transform="translate(37.55,0) scale(0.861,1)">s</text><text transform="translate(42.64,0) scale(0.918,1)">i</text><text transform="translate(45.17,0) scale(1.201,1)">t</text><text transform="translate(49.20,0) scale(0.918,1)">i</text><text transform="translate(51.93,0) scale(0.970,1)">v</text><text transform="translate(57.56,0) scale(0.970,1)">e</text><text transform="translate(66.81,0) scale(0.859,1)">R</text><text transform="translate(73.64,0) scale(0.808,1)">a</text><text transform="translate(79.49,0) scale(1.201,1)">t</text><text transform="translate(83.36,0) scale(0.970,1)">e</text></g><line x1="460.96" y1="488.99" x2="484.76" y2="488.99" stroke="#6464ee" stroke-width="1.5"/><line x1="460.96" y1="504.49" x2="484.36" y2="504.49" stroke="#333" stroke-width="1.0" stroke-dasharray="3.6 1.35"/><g transform="translate(492.85,492.89)" font-size="10.38" fill="#262626" stroke="#262626"><text transform="translate(0.19,0) scale(1.090,1)">M</text><text transform="translate(9.90,0) scale(1.181,1)">e</text><text transform="translate(17.02,0) scale(0.983,1)">a</text><text transform="translate(23.95,0) scale(1.178,1)">n</text><text transform="translate(34.76,0) scale(1.045,1)">R</text><text transform="translate(42.52,0) scale(1.080,1)">O</text><text transform="translate(51.45,0) scale(1.015,1)">C</text><text transform="translate(63.27,0) scale(0.924,1)">(</text><text transform="translate(67.38,0) scale(1.101,1)">A</text><text transform="translate(75.20,0) scale(1.074,1)">U</text><text transform="translate(83.49,0) scale(1.015,1)">C</text><text transform="translate(95.41,0) scale(1.408,1)">=</text><text transform="translate(108.32,0) scale(1.152,1)">0</text><text transform="translate(115.35,0) scale(1.183,1)">.</text><text transform="translate(119.00,0) scale(1.190,1)">9</text><text transform="translate(126.46,0) scale(1.100,1)">1</text><text transform="translate(137.65,0) scale(1.408,1)">&#177;</text><text transform="translate(150.31,0) scale(1.152,1)">0</text><text transform="translate(157.35,0) scale(1.183,1)">.</text><text transform="translate(161.14,0) scale(1.152,1)">0</text><text transform="translate(168.46,0) scale(1.100,1)">1</text><text transform="translate(176.16,0) scale(0.924,1)">)</text></g><g transform="translate(493.33,508.19)" font-size="10.38" fill="#262626" stroke="#262626"><text transform="translate(0.14,0) scale(1.097,1)">c</text><text transform="translate(6.42,0) scale(1.187,1)">h</text><text transform="translate(13.68,0) scale(0.983,1)">a</text><text transform="translate(20.61,0) scale(1.178,1)">n</text><text transform="translate(27.72,0) scale(1.097,1)">c</text><text transform="translate(33.93,0) scale(1.181,1)">e</text><text transform="translate(44.70,0) scale(1.117,1)">l</text><text transform="translate(47.67,0) scale(1.181,1)">e</text><text transform="translate(54.85,0) scale(1.180,1)">v</text><text transform="translate(61.37,0) scale(1.181,1)">e</text><text transform="translate(68.54,0) scale(1.117,1)">l</text><text transform="translate(75.39,0) scale(0.924,1)">(</text><text transform="translate(79.51,0) scale(1.101,1)">A</text><text transform="translate(87.33,0) scale(1.074,1)">U</text><text transform="translate(95.61,0) scale(1.015,1)">C</text><text transform="translate(107.53,0) scale(1.408,1)">=</text><text transform="translate(120.44,0) scale(1.152,1)">0</text><text transform="translate(127.48,0) scale(1.183,1)">.</text><text transform="translate(131.41,0) scale(1.087,1)">5</text><text transform="translate(139.06,0) scale(0.924,1)">)</text></g><text transform="translate(362.3,543.5) scale(1.1,1)" font-size="12.7" font-weight="bold" fill="#111" stroke="#111">(b)</text><g transform="translate(426.40,817.11)" font-size="10.38" fill="#262626" stroke="#262626"><text transform="translate(0.28,0) scale(1.137,1)">0</text><text transform="translate(7.22,0) scale(1.167,1)">.</text><text transform="translate(10.96,0) scale(1.137,1)">0</text></g><g transform="translate(400.59,798.50)" font-size="10.38" fill="#262626" stroke="#262626"><text transform="translate(0.28,0) scale(1.137,1)">0</text><text transform="translate(7.22,0) scale(1.167,1)">.</text><text transform="translate(10.96,0) scale(1.137,1)">0</text></g><g transform="translate(473.97,817.11)" font-size="10.38" fill="#262626" stroke="#262626"><text transform="translate(0.28,0) scale(1.137,1)">0</text><text transform="translate(7.22,0) scale(1.167,1)">.</text><text transform="translate(10.93,0) scale(1.096,1)">2</text></g><g transform="translate(400.96,756.08)" font-size="10.38" fill="#262626" stroke="#262626"><text transform="translate(0.28,0) scale(1.137,1)">0</text><text transform="translate(7.22,0) scale(1.167,1)">.</text><text transform="translate(10.93,0) scale(1.096,1)">2</text></g><g transform="translate(521.10,817.11)" font-size="10.38" fill="#262626" stroke="#262626"><text transform="translate(0.28,0) scale(1.137,1)">0</text><text transform="translate(7.22,0) scale(1.167,1)">.</text><text transform="translate(10.96,0) scale(1.137,1)">4</text></g><g transform="translate(400.47,713.66)" font-size="10.38" fill="#262626" stroke="#262626"><text transform="translate(0.28,0) scale(1.137,1)">0</text><text transform="translate(7.22,0) scale(1.167,1)">.</text><text transform="translate(10.96,0) scale(1.137,1)">4</text></g><g transform="translate(568.52,817.11)" font-size="10.38" fill="#262626" stroke="#262626"><text transform="translate(0.28,0) scale(1.137,1)">0</text><text transform="translate(7.22,0) scale(1.167,1)">.</text><text transform="translate(10.85,0) scale(1.177,1)">6</text></g><g transform="translate(400.55,671.24)" font-size="10.38" fill="#262626" stroke="#262626"><text transform="translate(0.28,0) scale(1.137,1)">0</text><text transform="translate(7.22,0) scale(1.167,1)">.</text><text transform="translate(10.85,0) scale(1.177,1)">6</text></g><g transform="translate(615.93,817.11)" font-size="10.38" fill="#262626" stroke="#262626"><text transform="translate(0.28,0) scale(1.137,1)">0</text><text transform="translate(7.22,0) scale(1.167,1)">.</text><text transform="translate(10.93,0) scale(1.149,1)">8</text></g><g transform="translate(400.61,628.82)" font-size="10.38" fill="#262626" stroke="#262626"><text transform="translate(0.28,0) scale(1.137,1)">0</text><text transform="translate(7.22,0) scale(1.167,1)">.</text><text transform="translate(10.93,0) scale(1.149,1)">8</text></g><g transform="translate(663.05,817.11)" font-size="10.38" fill="#262626" stroke="#262626"><text transform="translate(0.37,0) scale(1.086,1)">1</text><text transform="translate(7.22,0) scale(1.167,1)">.</text><text transform="translate(10.96,0) scale(1.137,1)">0</text></g><g transform="translate(400.59,586.40)" font-size="10.38" fill="#262626" stroke="#262626"><text transform="translate(0.37,0) scale(1.086,1)">1</text><text transform="translate(7.22,0) scale(1.167,1)">.</text><text transform="translate(10.96,0) scale(1.137,1)">0</text></g><g transform="translate(501.02,829.81)" font-size="10.38" fill="#262626" stroke="#262626"><text transform="translate(0.31,0) scale(0.924,1)">F</text><text transform="translate(6.69,0) scale(0.970,1)">a</text><text transform="translate(13.59,0) scale(1.103,1)">l</text><text transform="translate(16.73,0) scale(1.034,1)">s</text><text transform="translate(22.36,0) scale(1.165,1)">e</text><text transform="translate(32.99,0) scale(0.954,1)">P</text><text transform="translate(39.58,0) scale(1.147,1)">o</text><text transform="translate(46.62,0) scale(1.034,1)">s</text><text transform="translate(52.43,0) scale(1.103,1)">i</text><text transform="translate(55.33,0) scale(1.442,1)">t</text><text transform="translate(59.94,0) scale(1.103,1)">i</text><text transform="translate(63.05,0) scale(1.164,1)">v</text><text transform="translate(69.49,0) scale(1.165,1)">e</text><text transform="translate(80.06,0) scale(1.032,1)">R</text><text transform="translate(87.87,0) scale(0.970,1)">a</text><text transform="translate(94.56,0) scale(1.442,1)">t</text><text transform="translate(98.98,0) scale(1.165,1)">e</text></g><g transform="translate(395.35,688.95) rotate(-90) translate(-44.38,0)" font-size="10.91" fill="#262626" stroke="#262626"><text transform="translate(-0.27,0) scale(0.980,1)">T</text><text transform="translate(6.04,0) scale(1.151,1)">r</text><text transform="translate(10.16,0) scale(0.969,1)">u</text><text transform="translate(16.32,0) scale(0.970,1)">e</text><text transform="translate(25.62,0) scale(0.795,1)">P</text><text transform="translate(31.38,0) scale(0.955,1)">o</text><text transform="translate(37.55,0) scale(0.861,1)">s</text><text transform="translate(42.64,0) scale(0.918,1)">i</text><text transform="translate(45.17,0) scale(1.201,1)">t</text><text transform="translate(49.20,0) scale(0.918,1)">i</text><text transform="translate(51.93,0) scale(0.970,1)">v</text><text transform="translate(57.56,0) scale(0.970,1)">e</text><text transform="translate(66.81,0) scale(0.859,1)">R</text><text transform="translate(73.64,0) scale(0.808,1)">a</text><text transform="translate(79.49,0) scale(1.201,1)">t</text><text transform="translate(83.36,0) scale(0.970,1)">e</text></g><line x1="461.86" y1="775.41" x2="485.65" y2="775.41" stroke="#6464ee" stroke-width="1.5"/><line x1="461.86" y1="790.91" x2="485.25" y2="790.91" stroke="#333" stroke-width="1.0" stroke-dasharray="3.6 1.35"/><g transform="translate(493.74,779.31)" font-size="10.38" fill="#262626" stroke="#262626"><text transform="translate(0.19,0) scale(1.090,1)">M</text><text transform="translate(9.90,0) scale(1.181,1)">e</text><text transform="translate(17.02,0) scale(0.983,1)">a</text><text transform="translate(23.95,0) scale(1.178,1)">n</text><text transform="translate(34.76,0) scale(1.045,1)">R</text><text transform="translate(42.52,0) scale(1.080,1)">O</text><text transform="translate(51.45,0) scale(1.015,1)">C</text><text transform="translate(63.27,0) scale(0.924,1)">(</text><text transform="translate(67.38,0) scale(1.101,1)">A</text><text transform="translate(75.20,0) scale(1.074,1)">U</text><text transform="translate(83.49,0) scale(1.015,1)">C</text><text transform="translate(95.41,0) scale(1.408,1)">=</text><text transform="translate(108.32,0) scale(1.152,1)">0</text><text transform="translate(115.35,0) scale(1.183,1)">.</text><text transform="translate(119.00,0) scale(1.190,1)">9</text><text transform="translate(126.34,0) scale(1.111,1)">2</text><text transform="translate(137.65,0) scale(1.408,1)">&#177;</text><text transform="translate(150.31,0) scale(1.152,1)">0</text><text transform="translate(157.35,0) scale(1.183,1)">.</text><text transform="translate(161.14,0) scale(1.152,1)">0</text><text transform="translate(168.46,0) scale(1.100,1)">1</text><text transform="translate(176.16,0) scale(0.924,1)">)</text></g><g transform="translate(494.23,794.61)" font-size="10.38" fill="#262626" stroke="#262626"><text transform="translate(0.14,0) scale(1.097,1)">c</text><text transform="translate(6.42,0) scale(1.187,1)">h</text><text transform="translate(13.68,0) scale(0.983,1)">a</text><text transform="translate(20.61,0) scale(1.178,1)">n</text><text transform="translate(27.72,0) scale(1.097,1)">c</text><text transform="translate(33.93,0) scale(1.181,1)">e</text><text transform="translate(44.70,0) scale(1.117,1)">l</text><text transform="translate(47.67,0) scale(1.181,1)">e</text><text transform="translate(54.85,0) scale(1.180,1)">v</text><text transform="translate(61.37,0) scale(1.181,1)">e</text><text transform="translate(68.54,0) scale(1.117,1)">l</text><text transform="translate(75.39,0) scale(0.924,1)">(</text><text transform="translate(79.51,0) scale(1.101,1)">A</text><text transform="translate(87.33,0) scale(1.074,1)">U</text><text transform="translate(95.61,0) scale(1.015,1)">C</text><text transform="translate(107.53,0) scale(1.408,1)">=</text><text transform="translate(120.44,0) scale(1.152,1)">0</text><text transform="translate(127.48,0) scale(1.183,1)">.</text><text transform="translate(131.41,0) scale(1.087,1)">5</text><text transform="translate(139.06,0) scale(0.924,1)">)</text></g><text transform="translate(361.8,826.5) scale(1.1,1)" font-size="12.7" font-weight="bold" fill="#111" stroke="#111">(c)</text></svg>
</body></html>
